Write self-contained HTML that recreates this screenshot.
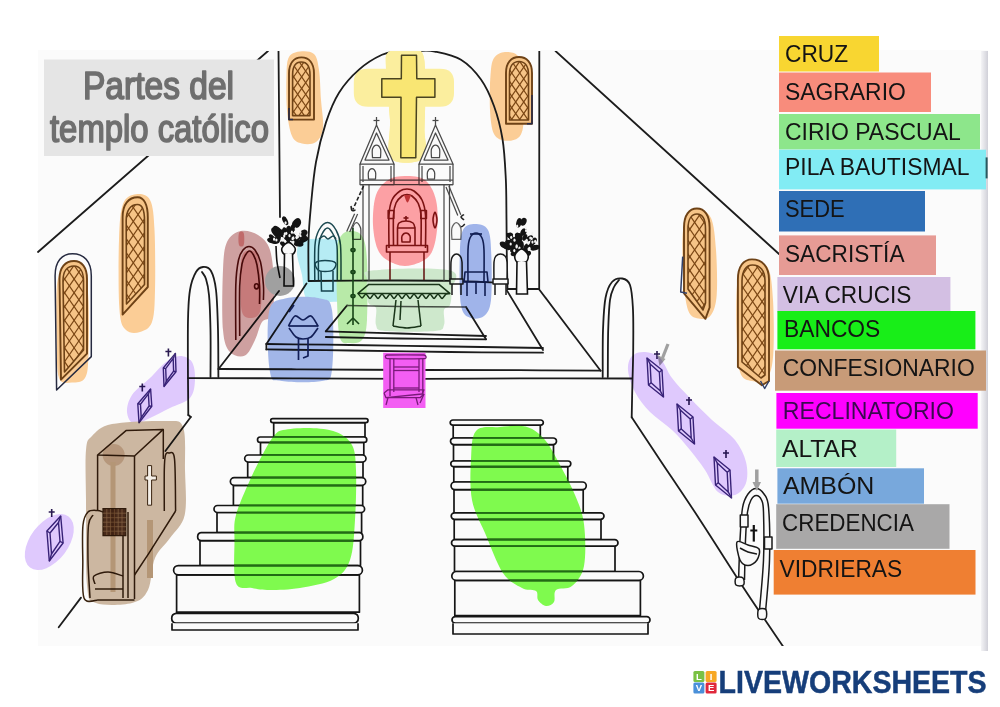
<!DOCTYPE html>
<html><head><meta charset="utf-8"><title>Partes del templo católico</title>
<style>
html,body{margin:0;padding:0;background:#fff;}
body{width:1000px;height:707px;position:relative;overflow:hidden;font-family:"Liberation Sans",sans-serif;}
svg{position:absolute;left:0;top:0;}
</style></head><body>
<svg width="1000" height="707" viewBox="0 0 1000 707">
<defs>
<filter id="soft" x="-10%" y="-10%" width="120%" height="120%"><feGaussianBlur stdDeviation="1.2"/></filter>
<filter id="soft2" x="-10%" y="-10%" width="120%" height="120%"><feGaussianBlur stdDeviation="0.6"/></filter>
</defs>
<!-- picture background -->
<rect x="38" y="50" width="950" height="596" fill="#fbfbfb"/>
<!-- right shadow bar -->
<defs><linearGradient id="sh" x1="0" x2="1"><stop offset="0" stop-color="#f4f4f6"/><stop offset="1" stop-color="#d0d0d8"/></linearGradient></defs>
<rect x="981" y="51" width="7" height="600" fill="url(#sh)"/>

<!-- DRAWING -->
<defs><clipPath id="cw1"><path d="M292.6,75 C292.6,66.5 296,62 301.2,62 C306.5,62 310,66.5 310,75 L310,115.6 L292.6,115.6Z"/></clipPath><clipPath id="cw2"><path d="M509.5,74.5 C509.5,66 513.3,61.5 519,61.5 C524.7,61.5 528.5,66 528.5,74.5 L528.5,120 L509.5,120Z"/></clipPath><clipPath id="cl1"><path d="M126.2,220.5 C126.2,210.1 130.7,204.5 137.5,204.5 C141.7,204.5 144.5,210.1 144.5,220.5 L144.5,284.5 L126.5,304Z"/></clipPath><clipPath id="cl2"><path d="M63,281 C63,271.2 67.4,266 74,266 C79.7,266 83.5,271.2 83.5,281 L83.5,350 L64.5,372Z"/></clipPath><clipPath id="cr1"><path d="M688,229 C688,219.2 691.6,214 697,214 C702.1,214 705.5,219.2 705.5,229 L705.5,303 L703,310 L688,289Z"/></clipPath><clipPath id="cr2"><path d="M742,281 C742,270.6 746.2,265 752.5,265 C760,265 765,270.6 765,281 L765,375 L761,378 L742,362Z"/></clipPath><clipPath id="cg"><path d="M283,430 C289,428.7 301.2,427.7 310,428 C318.8,428.3 329,429.2 336,432 C343,434.8 348.7,438.7 352,445 C355.3,451.3 355.5,457.5 356,470 C356.5,482.5 356,505 355,520 C354,535 353.5,550.2 350,560 C346.5,569.8 342.3,574.3 334,579 C325.7,583.7 310.7,586.2 300,588 C289.3,589.8 278,590 270,590 C262,590 257.7,589.2 252,588 C246.3,586.8 238.9,591 236,583 C233.1,575 234.5,551.3 234.5,540 C234.5,528.7 233.4,525 236,515 C238.6,505 245.2,490.8 250,480 C254.8,469.2 261,457.3 265,450 C269,442.7 271,439.3 274,436 C277,432.7 277,431.3 283,430Z"/><path d="M476,431 C480.8,425.5 491.5,427.7 500,427 C508.5,426.3 519.5,424.8 527,427 C534.5,429.2 539.5,433.7 545,440 C550.5,446.3 555,455.8 560,465 C565,474.2 571,485.2 575,495 C579,504.8 582.5,512.2 584,524 C585.5,535.8 586,555.7 584,566 C582,576.3 576.7,582 572,586 C567.3,590 559,587.3 556,590 C553,592.7 555.7,599.3 554,602 C552.3,604.7 548.7,606.3 546,606 C543.3,605.7 539.7,602.5 538,600 C536.3,597.5 538.7,593 536,591 C533.3,589 527.5,591 522,588 C516.5,585 509.2,582.2 503,573 C496.8,563.8 490.2,545.2 485,533 C479.8,520.8 474.3,512.2 472,500 C469.7,487.8 470.3,471.5 471,460 C471.7,448.5 471.2,436.5 476,431Z"/></clipPath><clipPath id="pic"><rect x="0" y="51" width="1000" height="595"/></clipPath></defs>
<g clip-path="url(#pic)"><g id="blobs-under">
<path d="M300,51.5 C304.2,51 310.8,50.9 314,54 C317.2,57.1 317.8,62.3 319,70 C320.2,77.7 320.3,90.3 321,100 C321.7,109.7 323.8,121 323,128 C322.2,135 319.5,139.4 316,142 C312.5,144.6 306,144.5 302,143.5 C298,142.5 294.5,141.6 292,136 C289.5,130.4 287.9,120.2 287,110 C286.1,99.8 286.2,83.8 286.5,75 C286.8,66.2 286.8,60.9 289,57 C291.2,53.1 295.8,52 300,51.5Z" fill="#fbcd96"/>
<path d="M505,52 C509,51.7 515,52.2 518,56 C521,59.8 522,65.2 523,75 C524,84.8 524.5,104.8 524,115 C523.5,125.2 523,131.7 520,136 C517,140.3 510.3,141.1 506,140.8 C501.7,140.5 496.7,139.1 494,134 C491.3,128.9 490.6,119.8 490,110 C489.4,100.2 489.8,83.7 490.5,75 C491.2,66.3 491.6,61.8 494,58 C496.4,54.2 501,52.3 505,52Z" fill="#fbcd96"/>
<path d="M136,194.3 C140.5,193.6 146.9,194.1 150,200 C153.1,205.9 153.7,215 154.5,230 C155.3,245 155.4,274.7 155,290 C154.6,305.3 154.5,315 152,322 C149.5,329 144.3,330.7 140,332 C135.7,333.3 129.4,333.7 126,330 C122.6,326.3 120.7,325 119.5,310 C118.3,295 118.4,257.7 119,240 C119.6,222.3 120.2,211.6 123,204 C125.8,196.4 131.5,195 136,194.3Z" fill="#fbcd96"/>
<path d="M72,265.3 C75.8,265.3 81.2,266.2 84,272 C86.8,277.8 87.8,286.2 88.5,300 C89.2,313.8 89.1,342 88.5,355 C87.9,368 87.8,373.4 85,378 C82.2,382.6 76.3,382.6 72,382.6 C67.7,382.6 61.6,385.1 59,378 C56.4,370.9 57,354.7 56.6,340 C56.2,325.3 55.9,301.3 56.6,290 C57.3,278.7 58.4,276.1 61,272 C63.6,267.9 68.2,265.3 72,265.3Z" fill="#fbcd96"/>
<path d="M698,211.3 C702.5,210.1 708,211.6 711,218 C714,224.4 715,237.2 716,250 C717,262.8 717.5,284.2 716.7,295 C715.9,305.8 713.8,311 711,315 C708.2,319 703.8,319.6 700,318.8 C696.2,318 690.8,318.1 688,310 C685.2,301.9 683.7,284.2 683,270 C682.3,255.8 681.5,234.8 684,225 C686.5,215.2 693.5,212.5 698,211.3Z" fill="#fbcd96"/>
<path d="M753,262 C757.3,262 764.7,261.7 768,268 C771.3,274.3 772.1,285.5 773,300 C773.9,314.5 774.2,342 773.2,355 C772.2,368 770.5,373.7 767,378 C763.5,382.3 756.5,382 752,381 C747.5,380 742.6,380.5 740,372 C737.4,363.5 737,344.5 736.5,330 C736,315.5 736.1,295.3 737,285 C737.9,274.7 739.3,271.8 742,268 C744.7,264.2 748.7,262 753,262Z" fill="#fbcd96"/>
<path d="M368,68.7 L440,68.7 Q454,68.7 454,82 L454,93 Q454,106.8 440,106.8 L368,106.8 Q353.8,106.8 353.8,93 L353.8,82 Q353.8,68.7 368,68.7Z" fill="#fbee9e"/>
<path d="M390,51 C395.8,47.8 415.2,44.5 421,51 C426.8,57.5 424.4,76.8 425,90 C425.6,103.2 424.7,118.6 424.5,130 C424.3,141.4 429.6,153.8 424,158.6 C418.4,163.4 396.7,165 391,158.6 C385.3,152.2 390.8,134.8 390,120 C389.2,105.2 386,81.5 386,70 C386,58.5 384.2,54.2 390,51Z" fill="#fbee9e"/>
</g>
<g id="windows" fill="none" stroke-linejoin="round">
<path d="M289,73.4 C289,63 294,57.4 301.5,57.4 C309,57.4 314,63 314,73.4 L314,119.6 L289,119.6Z" fill="#f6c487" stroke="none"/>
<g clip-path="url(#cw1)" stroke="#7a4614" stroke-width="1.2">
<path d="M222.8,55.4 L268.5,121.6"/>
<path d="M268.5,55.4 L222.8,121.6"/>
<path d="M230.8,55.4 L276.5,121.6"/>
<path d="M276.5,55.4 L230.8,121.6"/>
<path d="M238.8,55.4 L284.5,121.6"/>
<path d="M284.5,55.4 L238.8,121.6"/>
<path d="M246.8,55.4 L292.5,121.6"/>
<path d="M292.5,55.4 L246.8,121.6"/>
<path d="M254.8,55.4 L300.5,121.6"/>
<path d="M300.5,55.4 L254.8,121.6"/>
<path d="M262.8,55.4 L308.5,121.6"/>
<path d="M308.5,55.4 L262.8,121.6"/>
<path d="M270.8,55.4 L316.5,121.6"/>
<path d="M316.5,55.4 L270.8,121.6"/>
<path d="M278.8,55.4 L324.5,121.6"/>
<path d="M324.5,55.4 L278.8,121.6"/>
<path d="M286.8,55.4 L332.5,121.6"/>
<path d="M332.5,55.4 L286.8,121.6"/>
<path d="M294.8,55.4 L340.5,121.6"/>
<path d="M340.5,55.4 L294.8,121.6"/>
<path d="M302.8,55.4 L348.5,121.6"/>
<path d="M348.5,55.4 L302.8,121.6"/>
<path d="M310.8,55.4 L356.5,121.6"/>
<path d="M356.5,55.4 L310.8,121.6"/>
<path d="M318.8,55.4 L364.5,121.6"/>
<path d="M364.5,55.4 L318.8,121.6"/>
<path d="M326.8,55.4 L372.5,121.6"/>
<path d="M372.5,55.4 L326.8,121.6"/>
<path d="M334.8,55.4 L380.5,121.6"/>
<path d="M380.5,55.4 L334.8,121.6"/>
<path d="M342.8,55.4 L388.5,121.6"/>
<path d="M388.5,55.4 L342.8,121.6"/>
<path d="M350.8,55.4 L396.5,121.6"/>
<path d="M396.5,55.4 L350.8,121.6"/>
<path d="M358.8,55.4 L404.5,121.6"/>
<path d="M404.5,55.4 L358.8,121.6"/>
<path d="M366.8,55.4 L412.5,121.6"/>
<path d="M412.5,55.4 L366.8,121.6"/>
<path d="M374.8,55.4 L420.5,121.6"/>
<path d="M420.5,55.4 L374.8,121.6"/>
</g>
<path d="M292.6,75 C292.6,66.5 296,62 301.2,62 C306.5,62 310,66.5 310,75 L310,115.6 L292.6,115.6Z" fill="none" stroke="#6e4216" stroke-width="1.6"/>
<path d="M289,73.4 C289,63 294,57.4 301.5,57.4 C309,57.4 314,63 314,73.4 L314,119.6 L289,119.6Z" fill="none" stroke="#6e4216" stroke-width="1.9"/>
<path d="M289,108 L289,119.6 L293,119.6" fill="none" stroke="#262a48" stroke-width="1.5"/>
<path d="M506,73 C506,62.6 511.2,57 519,57 C526.8,57 532,62.6 532,73 L532,123.7 L506,123.7Z" fill="#f6c487" stroke="none"/>
<g clip-path="url(#cw2)" stroke="#7a4614" stroke-width="1.2">
<path d="M435.3,55 L484.1,125.7"/>
<path d="M484.1,55 L435.3,125.7"/>
<path d="M443.3,55 L492.1,125.7"/>
<path d="M492.1,55 L443.3,125.7"/>
<path d="M451.3,55 L500.1,125.7"/>
<path d="M500.1,55 L451.3,125.7"/>
<path d="M459.3,55 L508.1,125.7"/>
<path d="M508.1,55 L459.3,125.7"/>
<path d="M467.3,55 L516.1,125.7"/>
<path d="M516.1,55 L467.3,125.7"/>
<path d="M475.3,55 L524.1,125.7"/>
<path d="M524.1,55 L475.3,125.7"/>
<path d="M483.3,55 L532.1,125.7"/>
<path d="M532.1,55 L483.3,125.7"/>
<path d="M491.3,55 L540.1,125.7"/>
<path d="M540.1,55 L491.3,125.7"/>
<path d="M499.3,55 L548.1,125.7"/>
<path d="M548.1,55 L499.3,125.7"/>
<path d="M507.3,55 L556.1,125.7"/>
<path d="M556.1,55 L507.3,125.7"/>
<path d="M515.3,55 L564.1,125.7"/>
<path d="M564.1,55 L515.3,125.7"/>
<path d="M523.3,55 L572.1,125.7"/>
<path d="M572.1,55 L523.3,125.7"/>
<path d="M531.3,55 L580.1,125.7"/>
<path d="M580.1,55 L531.3,125.7"/>
<path d="M539.3,55 L588.1,125.7"/>
<path d="M588.1,55 L539.3,125.7"/>
<path d="M547.3,55 L596.1,125.7"/>
<path d="M596.1,55 L547.3,125.7"/>
<path d="M555.3,55 L604.1,125.7"/>
<path d="M604.1,55 L555.3,125.7"/>
<path d="M563.3,55 L612.1,125.7"/>
<path d="M612.1,55 L563.3,125.7"/>
<path d="M571.3,55 L620.1,125.7"/>
<path d="M620.1,55 L571.3,125.7"/>
<path d="M579.3,55 L628.1,125.7"/>
<path d="M628.1,55 L579.3,125.7"/>
<path d="M587.3,55 L636.1,125.7"/>
<path d="M636.1,55 L587.3,125.7"/>
<path d="M595.3,55 L644.1,125.7"/>
<path d="M644.1,55 L595.3,125.7"/>
</g>
<path d="M509.5,74.5 C509.5,66 513.3,61.5 519,61.5 C524.7,61.5 528.5,66 528.5,74.5 L528.5,120 L509.5,120Z" fill="none" stroke="#6e4216" stroke-width="1.6"/>
<path d="M506,73 C506,62.6 511.2,57 519,57 C526.8,57 532,62.6 532,73 L532,123.7 L506,123.7Z" fill="none" stroke="#6e4216" stroke-width="1.9"/>
<path d="M532,95 L532,123.7 L527,123.7" fill="none" stroke="#262a48" stroke-width="1.5"/>
<path d="M122.6,217.2 C122.6,204.2 128.6,197.2 137.7,197.2 C143.8,197.2 147.8,204.2 147.8,217.2 L147.8,287 L122.6,314.6Z" fill="#f6c487" stroke="none"/>
<g clip-path="url(#cl1)" stroke="#7a4614" stroke-width="1.2">
<path d="M1.2,195.2 L84.9,316.6"/>
<path d="M84.9,195.2 L1.2,316.6"/>
<path d="M10.7,195.2 L94.4,316.6"/>
<path d="M94.4,195.2 L10.7,316.6"/>
<path d="M20.2,195.2 L103.9,316.6"/>
<path d="M103.9,195.2 L20.2,316.6"/>
<path d="M29.7,195.2 L113.4,316.6"/>
<path d="M113.4,195.2 L29.7,316.6"/>
<path d="M39.2,195.2 L122.9,316.6"/>
<path d="M122.9,195.2 L39.2,316.6"/>
<path d="M48.7,195.2 L132.4,316.6"/>
<path d="M132.4,195.2 L48.7,316.6"/>
<path d="M58.2,195.2 L141.9,316.6"/>
<path d="M141.9,195.2 L58.2,316.6"/>
<path d="M67.7,195.2 L151.4,316.6"/>
<path d="M151.4,195.2 L67.7,316.6"/>
<path d="M77.2,195.2 L160.9,316.6"/>
<path d="M160.9,195.2 L77.2,316.6"/>
<path d="M86.7,195.2 L170.4,316.6"/>
<path d="M170.4,195.2 L86.7,316.6"/>
<path d="M96.2,195.2 L179.9,316.6"/>
<path d="M179.9,195.2 L96.2,316.6"/>
<path d="M105.7,195.2 L189.4,316.6"/>
<path d="M189.4,195.2 L105.7,316.6"/>
<path d="M115.2,195.2 L198.9,316.6"/>
<path d="M198.9,195.2 L115.2,316.6"/>
<path d="M124.7,195.2 L208.4,316.6"/>
<path d="M208.4,195.2 L124.7,316.6"/>
<path d="M134.2,195.2 L217.9,316.6"/>
<path d="M217.9,195.2 L134.2,316.6"/>
<path d="M143.7,195.2 L227.4,316.6"/>
<path d="M227.4,195.2 L143.7,316.6"/>
<path d="M153.2,195.2 L236.9,316.6"/>
<path d="M236.9,195.2 L153.2,316.6"/>
<path d="M162.7,195.2 L246.4,316.6"/>
<path d="M246.4,195.2 L162.7,316.6"/>
<path d="M172.2,195.2 L255.9,316.6"/>
<path d="M255.9,195.2 L172.2,316.6"/>
<path d="M181.7,195.2 L265.4,316.6"/>
<path d="M265.4,195.2 L181.7,316.6"/>
<path d="M191.2,195.2 L274.9,316.6"/>
<path d="M274.9,195.2 L191.2,316.6"/>
<path d="M200.7,195.2 L284.4,316.6"/>
<path d="M284.4,195.2 L200.7,316.6"/>
<path d="M210.2,195.2 L293.9,316.6"/>
<path d="M293.9,195.2 L210.2,316.6"/>
<path d="M219.7,195.2 L303.4,316.6"/>
<path d="M303.4,195.2 L219.7,316.6"/>
<path d="M229.2,195.2 L312.9,316.6"/>
<path d="M312.9,195.2 L229.2,316.6"/>
<path d="M238.7,195.2 L322.4,316.6"/>
<path d="M322.4,195.2 L238.7,316.6"/>
<path d="M248.2,195.2 L331.9,316.6"/>
<path d="M331.9,195.2 L248.2,316.6"/>
<path d="M257.7,195.2 L341.4,316.6"/>
<path d="M341.4,195.2 L257.7,316.6"/>
<path d="M267.2,195.2 L350.9,316.6"/>
<path d="M350.9,195.2 L267.2,316.6"/>
</g>
<path d="M126.2,220.5 C126.2,210.1 130.7,204.5 137.5,204.5 C141.7,204.5 144.5,210.1 144.5,220.5 L144.5,284.5 L126.5,304Z" fill="none" stroke="#6e4216" stroke-width="1.6"/>
<path d="M122.6,217.2 C122.6,204.2 128.6,197.2 137.7,197.2 C143.8,197.2 147.8,204.2 147.8,217.2 L147.8,287 L122.6,314.6Z" fill="none" stroke="#6e4216" stroke-width="1.9"/>
<path d="M59.5,279 C59.5,267.3 65.3,261 74,261 C81.8,261 87,267.3 87,279 L87,353.7 L61,379.7Z" fill="#f6c487" stroke="none"/>
<g clip-path="url(#cl2)" stroke="#7a4614" stroke-width="1.2">
<path d="M-63.2,259 L21.4,381.7"/>
<path d="M21.4,259 L-63.2,381.7"/>
<path d="M-53.7,259 L30.9,381.7"/>
<path d="M30.9,259 L-53.7,381.7"/>
<path d="M-44.2,259 L40.4,381.7"/>
<path d="M40.4,259 L-44.2,381.7"/>
<path d="M-34.7,259 L49.9,381.7"/>
<path d="M49.9,259 L-34.7,381.7"/>
<path d="M-25.2,259 L59.4,381.7"/>
<path d="M59.4,259 L-25.2,381.7"/>
<path d="M-15.7,259 L68.9,381.7"/>
<path d="M68.9,259 L-15.7,381.7"/>
<path d="M-6.2,259 L78.4,381.7"/>
<path d="M78.4,259 L-6.2,381.7"/>
<path d="M3.3,259 L87.9,381.7"/>
<path d="M87.9,259 L3.3,381.7"/>
<path d="M12.8,259 L97.4,381.7"/>
<path d="M97.4,259 L12.8,381.7"/>
<path d="M22.3,259 L106.9,381.7"/>
<path d="M106.9,259 L22.3,381.7"/>
<path d="M31.8,259 L116.4,381.7"/>
<path d="M116.4,259 L31.8,381.7"/>
<path d="M41.3,259 L125.9,381.7"/>
<path d="M125.9,259 L41.3,381.7"/>
<path d="M50.8,259 L135.4,381.7"/>
<path d="M135.4,259 L50.8,381.7"/>
<path d="M60.3,259 L144.9,381.7"/>
<path d="M144.9,259 L60.3,381.7"/>
<path d="M69.8,259 L154.4,381.7"/>
<path d="M154.4,259 L69.8,381.7"/>
<path d="M79.3,259 L163.9,381.7"/>
<path d="M163.9,259 L79.3,381.7"/>
<path d="M88.8,259 L173.4,381.7"/>
<path d="M173.4,259 L88.8,381.7"/>
<path d="M98.3,259 L182.9,381.7"/>
<path d="M182.9,259 L98.3,381.7"/>
<path d="M107.8,259 L192.4,381.7"/>
<path d="M192.4,259 L107.8,381.7"/>
<path d="M117.3,259 L201.9,381.7"/>
<path d="M201.9,259 L117.3,381.7"/>
<path d="M126.8,259 L211.4,381.7"/>
<path d="M211.4,259 L126.8,381.7"/>
<path d="M136.3,259 L220.9,381.7"/>
<path d="M220.9,259 L136.3,381.7"/>
<path d="M145.8,259 L230.4,381.7"/>
<path d="M230.4,259 L145.8,381.7"/>
<path d="M155.3,259 L239.9,381.7"/>
<path d="M239.9,259 L155.3,381.7"/>
<path d="M164.8,259 L249.4,381.7"/>
<path d="M249.4,259 L164.8,381.7"/>
<path d="M174.3,259 L258.9,381.7"/>
<path d="M258.9,259 L174.3,381.7"/>
<path d="M183.8,259 L268.4,381.7"/>
<path d="M268.4,259 L183.8,381.7"/>
<path d="M193.3,259 L277.9,381.7"/>
<path d="M277.9,259 L193.3,381.7"/>
<path d="M202.8,259 L287.4,381.7"/>
<path d="M287.4,259 L202.8,381.7"/>
</g>
<path d="M63,281 C63,271.2 67.4,266 74,266 C79.7,266 83.5,271.2 83.5,281 L83.5,350 L64.5,372Z" fill="none" stroke="#6e4216" stroke-width="1.6"/>
<path d="M59.5,279 C59.5,267.3 65.3,261 74,261 C81.8,261 87,267.3 87,279 L87,353.7 L61,379.7Z" fill="none" stroke="#6e4216" stroke-width="1.9"/>
<path d="M55.1,275.7 C55.1,261.4 62.1,253.7 72.5,253.7 C83.8,253.7 91.3,261.4 91.3,275.7 L91.3,356.6 L56.6,390Z" fill="none" stroke="#262a40" stroke-width="1.5"/>
<path d="M684,227.5 C684,215.2 689.2,208.5 696.9,208.5 C704.5,208.5 709.6,215.2 709.6,227.5 L709.6,307.5 L705.4,318.8 L684,293.3Z" fill="#f6c487" stroke="none"/>
<g clip-path="url(#cr1)" stroke="#7a4614" stroke-width="1.2">
<path d="M569.7,206.5 L648.5,320.8"/>
<path d="M648.5,206.5 L569.7,320.8"/>
<path d="M579.2,206.5 L658,320.8"/>
<path d="M658,206.5 L579.2,320.8"/>
<path d="M588.7,206.5 L667.5,320.8"/>
<path d="M667.5,206.5 L588.7,320.8"/>
<path d="M598.2,206.5 L677,320.8"/>
<path d="M677,206.5 L598.2,320.8"/>
<path d="M607.7,206.5 L686.5,320.8"/>
<path d="M686.5,206.5 L607.7,320.8"/>
<path d="M617.2,206.5 L696,320.8"/>
<path d="M696,206.5 L617.2,320.8"/>
<path d="M626.7,206.5 L705.5,320.8"/>
<path d="M705.5,206.5 L626.7,320.8"/>
<path d="M636.2,206.5 L715,320.8"/>
<path d="M715,206.5 L636.2,320.8"/>
<path d="M645.7,206.5 L724.5,320.8"/>
<path d="M724.5,206.5 L645.7,320.8"/>
<path d="M655.2,206.5 L734,320.8"/>
<path d="M734,206.5 L655.2,320.8"/>
<path d="M664.7,206.5 L743.5,320.8"/>
<path d="M743.5,206.5 L664.7,320.8"/>
<path d="M674.2,206.5 L753,320.8"/>
<path d="M753,206.5 L674.2,320.8"/>
<path d="M683.7,206.5 L762.5,320.8"/>
<path d="M762.5,206.5 L683.7,320.8"/>
<path d="M693.2,206.5 L772,320.8"/>
<path d="M772,206.5 L693.2,320.8"/>
<path d="M702.7,206.5 L781.5,320.8"/>
<path d="M781.5,206.5 L702.7,320.8"/>
<path d="M712.2,206.5 L791,320.8"/>
<path d="M791,206.5 L712.2,320.8"/>
<path d="M721.7,206.5 L800.5,320.8"/>
<path d="M800.5,206.5 L721.7,320.8"/>
<path d="M731.2,206.5 L810,320.8"/>
<path d="M810,206.5 L731.2,320.8"/>
<path d="M740.7,206.5 L819.5,320.8"/>
<path d="M819.5,206.5 L740.7,320.8"/>
<path d="M750.2,206.5 L829,320.8"/>
<path d="M829,206.5 L750.2,320.8"/>
<path d="M759.7,206.5 L838.5,320.8"/>
<path d="M838.5,206.5 L759.7,320.8"/>
<path d="M769.2,206.5 L848,320.8"/>
<path d="M848,206.5 L769.2,320.8"/>
<path d="M778.7,206.5 L857.5,320.8"/>
<path d="M857.5,206.5 L778.7,320.8"/>
<path d="M788.2,206.5 L867,320.8"/>
<path d="M867,206.5 L788.2,320.8"/>
<path d="M797.7,206.5 L876.5,320.8"/>
<path d="M876.5,206.5 L797.7,320.8"/>
<path d="M807.2,206.5 L886,320.8"/>
<path d="M886,206.5 L807.2,320.8"/>
<path d="M816.7,206.5 L895.5,320.8"/>
<path d="M895.5,206.5 L816.7,320.8"/>
</g>
<path d="M688,229 C688,219.2 691.6,214 697,214 C702.1,214 705.5,219.2 705.5,229 L705.5,303 L703,310 L688,289Z" fill="none" stroke="#6e4216" stroke-width="1.6"/>
<path d="M684,227.5 C684,215.2 689.2,208.5 696.9,208.5 C704.5,208.5 709.6,215.2 709.6,227.5 L709.6,307.5 L705.4,318.8 L684,293.3Z" fill="none" stroke="#6e4216" stroke-width="1.9"/>
<path d="M682.7,256.6 L680.7,292 L687,293.3" fill="none" stroke="#30406a" stroke-width="1.5"/>
<path d="M737.9,279.4 C737.9,266.4 743.5,259.4 752,259.4 C762.2,259.4 769,266.4 769,279.4 L769,381 L761.9,385.2 L737.9,367Z" fill="#f6c487" stroke="none"/>
<g clip-path="url(#cr2)" stroke="#7a4614" stroke-width="1.2">
<path d="M608.1,257.4 L697.6,387.2"/>
<path d="M697.6,257.4 L608.1,387.2"/>
<path d="M617.6,257.4 L707.1,387.2"/>
<path d="M707.1,257.4 L617.6,387.2"/>
<path d="M627.1,257.4 L716.6,387.2"/>
<path d="M716.6,257.4 L627.1,387.2"/>
<path d="M636.6,257.4 L726.1,387.2"/>
<path d="M726.1,257.4 L636.6,387.2"/>
<path d="M646.1,257.4 L735.6,387.2"/>
<path d="M735.6,257.4 L646.1,387.2"/>
<path d="M655.6,257.4 L745.1,387.2"/>
<path d="M745.1,257.4 L655.6,387.2"/>
<path d="M665.1,257.4 L754.6,387.2"/>
<path d="M754.6,257.4 L665.1,387.2"/>
<path d="M674.6,257.4 L764.1,387.2"/>
<path d="M764.1,257.4 L674.6,387.2"/>
<path d="M684.1,257.4 L773.6,387.2"/>
<path d="M773.6,257.4 L684.1,387.2"/>
<path d="M693.6,257.4 L783.1,387.2"/>
<path d="M783.1,257.4 L693.6,387.2"/>
<path d="M703.1,257.4 L792.6,387.2"/>
<path d="M792.6,257.4 L703.1,387.2"/>
<path d="M712.6,257.4 L802.1,387.2"/>
<path d="M802.1,257.4 L712.6,387.2"/>
<path d="M722.1,257.4 L811.6,387.2"/>
<path d="M811.6,257.4 L722.1,387.2"/>
<path d="M731.6,257.4 L821.1,387.2"/>
<path d="M821.1,257.4 L731.6,387.2"/>
<path d="M741.1,257.4 L830.6,387.2"/>
<path d="M830.6,257.4 L741.1,387.2"/>
<path d="M750.6,257.4 L840.1,387.2"/>
<path d="M840.1,257.4 L750.6,387.2"/>
<path d="M760.1,257.4 L849.6,387.2"/>
<path d="M849.6,257.4 L760.1,387.2"/>
<path d="M769.6,257.4 L859.1,387.2"/>
<path d="M859.1,257.4 L769.6,387.2"/>
<path d="M779.1,257.4 L868.6,387.2"/>
<path d="M868.6,257.4 L779.1,387.2"/>
<path d="M788.6,257.4 L878.1,387.2"/>
<path d="M878.1,257.4 L788.6,387.2"/>
<path d="M798.1,257.4 L887.6,387.2"/>
<path d="M887.6,257.4 L798.1,387.2"/>
<path d="M807.6,257.4 L897.1,387.2"/>
<path d="M897.1,257.4 L807.6,387.2"/>
<path d="M817.1,257.4 L906.6,387.2"/>
<path d="M906.6,257.4 L817.1,387.2"/>
<path d="M826.6,257.4 L916.1,387.2"/>
<path d="M916.1,257.4 L826.6,387.2"/>
<path d="M836.1,257.4 L925.6,387.2"/>
<path d="M925.6,257.4 L836.1,387.2"/>
<path d="M845.6,257.4 L935.1,387.2"/>
<path d="M935.1,257.4 L845.6,387.2"/>
<path d="M855.1,257.4 L944.6,387.2"/>
<path d="M944.6,257.4 L855.1,387.2"/>
<path d="M864.6,257.4 L954.1,387.2"/>
<path d="M954.1,257.4 L864.6,387.2"/>
<path d="M874.1,257.4 L963.6,387.2"/>
<path d="M963.6,257.4 L874.1,387.2"/>
<path d="M883.6,257.4 L973.1,387.2"/>
<path d="M973.1,257.4 L883.6,387.2"/>
<path d="M893.1,257.4 L982.6,387.2"/>
<path d="M982.6,257.4 L893.1,387.2"/>
</g>
<path d="M742,281 C742,270.6 746.2,265 752.5,265 C760,265 765,270.6 765,281 L765,375 L761,378 L742,362Z" fill="none" stroke="#6e4216" stroke-width="1.6"/>
<path d="M737.9,279.4 C737.9,266.4 743.5,259.4 752,259.4 C762.2,259.4 769,266.4 769,279.4 L769,381 L761.9,385.2 L737.9,367Z" fill="none" stroke="#6e4216" stroke-width="1.9"/>
<path d="M760.5,381 L764.7,388.5 L769,381" fill="none" stroke="#30406a" stroke-width="1.5"/>
</g>
<g id="ink" fill="none" stroke="#1c1c1c" stroke-width="1.8" stroke-linecap="round" stroke-linejoin="round">
<path d="M268,51 L38,252" />
<path d="M555.5,51 L779,254" />
<path d="M278.5,50.5 L280,217" />
<path d="M539.3,50.5 L539.2,289" />
<path d="M308.6,281 C308.6,274.2 308.1,252.7 308.5,240 C308.9,227.3 309.8,218 311,205 C312.2,192 313.5,175.8 316,162 C318.5,148.2 322.2,134 326,122.4 C329.8,110.9 333.5,101.5 339,92.7 C344.5,83.9 351.8,75.9 359,69.6 C366.2,63.3 375.4,57.8 382,54.8 C388.6,51.8 392.7,52.1 398.5,51.5 C404.3,50.9 410.9,51 417,51 C423.1,51 427.5,50 434.8,51.5 C442.1,53 453.3,55 461,59.7 C468.7,64.4 475.5,71.8 481,79.5 C486.5,87.2 490.4,96.1 494,106 C497.6,115.9 500.5,126.9 502.5,139 C504.5,151.1 505.1,165 505.8,178.5 C506.5,192 506.3,207.2 506.5,220 C506.7,232.8 506.6,243.5 506.8,255 C507,266.5 507.4,283.3 507.5,289" />
<path d="M507.5,289 L539.2,289" />
<path d="M279,291 L218.5,369" />
<path d="M539.4,289.7 L600.6,370.7" />
<path d="M507,290.6 L543,350" />
<path d="M266.4,344 C280.3,344.2 319.4,344.6 350,345 C380.6,345.4 417.8,346 450,346.5 C482.2,347 527.5,347.8 543,348" />
<path d="M266.4,349.4 C280.3,349.6 319.4,350.1 350,350.5 C380.6,350.9 417.8,351.6 450,352 C482.2,352.4 527.5,352.6 543,352.7" />
<path d="M266.4,344 L306.5,283.5" />
<path d="M266.4,344 L266.4,349.4" />
<path d="M325.8,331.4 C338.2,331.8 373.3,332.7 400,333.5 C426.7,334.3 471.7,335.6 486,336" />
<path d="M325.8,337 C338.2,337.2 373.3,338.1 400,338.5 C426.7,338.9 471.7,339.2 486,339.3" />
<path d="M325.8,331.4 L347,305.5" />
<path d="M486,339.3 L466,307" />
<path d="M347,305.5 C355.8,305.7 380.2,306.2 400,306.5 C419.8,306.8 455,306.9 466,307" stroke="#555" stroke-width="1.4"/>
<path d="M309,281 C320.8,280.9 356.5,280.5 380,280.5 C403.5,280.5 428.8,280.4 450,280.8 C471.2,281.2 497.9,282.6 507.5,283" />
<path d="M218.5,369 C232.1,369.1 266.4,369.1 300,369.3 C333.6,369.5 383.3,369.9 420,370 C456.7,370.1 489.9,370.1 520,370.2 C550.1,370.3 587.2,370.6 600.6,370.7" />
<path d="M188,378.2 C206.7,378.2 261.3,378.2 300,378.3 C338.7,378.4 383.3,378.8 420,378.8 C456.7,378.8 484.7,378.4 520,378.4 C555.3,378.3 613.3,378.5 632,378.5" />
<path d="M188.3,415 C188.2,409.2 188.1,395.8 188,380 C187.9,364.2 187.7,335 188,320 C188.3,305 188.7,298 190,290 C191.3,282 193.8,275.8 196,272 C198.2,268.2 200.5,267.2 203,267 C205.5,266.8 208.8,267.2 211,271 C213.2,274.8 214.8,280.2 216,290 C217.2,299.8 217.6,315.5 218,330 C218.4,344.5 218.3,369.2 218.4,377" />
<path d="M210.5,377 C210.5,369.2 210.8,343.7 210.5,330 C210.2,316.3 209.8,303.5 209,295 C208.2,286.5 207.2,282.8 206,279 C204.8,275.2 202.7,273.2 202,272" />
<path d="M190.8,417 L165.4,451" />
<path d="M81,597.6 L58.7,627.3" />
<path d="M188.3,415 L190.8,417" />
<path d="M602.7,377 C602.8,369.2 602.5,343.2 603,330 C603.5,316.8 604,306 605.5,298 C607,290 609.2,285.2 612,282 C614.8,278.8 619.2,278 622.2,278.5 C625.2,279 628.2,279.8 630,285 C631.8,290.2 632.5,299.2 633,310 C633.5,320.8 633.3,338.3 633.2,350 C633.1,361.7 632.8,368.8 632.5,380 C632.2,391.2 631.8,411.1 631.7,417.3" />
<path d="M607.8,377 C607.9,369.2 607.8,342.8 608.2,330 C608.6,317.2 609,307.2 610,300 C611,292.8 612.5,290.3 614,287 C615.5,283.7 618.2,281.2 619,280" />
<path d="M631.7,417.3 C636.4,424.4 648.6,442.9 660,460 C671.4,477.1 685.8,498.3 700,520 C714.2,541.7 731.1,568.8 745,590 C758.9,611.2 777.1,637.5 783.5,647" />
</g>
<path d="M390,51 C395.8,47.8 415.2,44.5 421,51 C426.8,57.5 424.4,76.8 425,90 C425.6,103.2 424.7,118.6 424.5,130 C424.3,141.4 429.6,153.8 424,158.6 C418.4,163.4 396.7,165 391,158.6 C385.3,152.2 390.8,134.8 390,120 C389.2,105.2 386,81.5 386,70 C386,58.5 384.2,54.2 390,51Z" fill="#fbee9e"/>
<path d="M401.5,55.3 L416.5,55.3 L416.8,78.7 L434.9,78.7 L434.9,97.3 L416.5,97.3 L415.8,157.7 L400.8,157.7 L401,97.3 L381.8,97.3 L381.8,78.7 L401.3,78.7Z" fill="#f9e673" stroke="#4a4420" stroke-width="1.5" stroke-linejoin="round"/>
<g fill="none" stroke="#4a4a4a" stroke-width="1.25" stroke-linejoin="round">
<path d="M376.5,117 L376.5,125" />
<path d="M373.5,120.5 L379.5,120.5" />
<path d="M376.5,125 L360,164 L394,164Z" fill="#fafafa"/>
<path d="M376.5,133 L365,160 L389,160Z" />
<path d="M372.5,157.7 C372.5,156.2 371.8,151.1 372.5,149 C373.2,146.9 375.2,145 376.5,145 C377.8,145 379.8,146.9 380.5,149 C381.2,151.1 380.5,156.2 380.5,157.7Z" />
<path d="M360,164 L360,184.5 L394,184.5 L394,164" />
<path d="M363,166 L363,182" />
<path d="M391,166 L391,182" />
<path d="M368.5,179 C368.5,177.8 367.9,173.8 368.5,172 C369.1,170.2 370.8,168.5 372,168.5 C373.2,168.5 374.9,170.2 375.5,172 C376.1,173.8 375.5,177.8 375.5,179Z" />
<path d="M435.5,117 L435.5,125" />
<path d="M432.5,120.5 L438.5,120.5" />
<path d="M435.5,125 L419,164 L453,164Z" fill="#fafafa"/>
<path d="M435.5,133 L424,160 L448,160Z" />
<path d="M431.5,157.7 C431.5,156.2 430.8,151.1 431.5,149 C432.2,146.9 434.2,145 435.5,145 C436.8,145 438.8,146.9 439.5,149 C440.2,151.1 439.5,156.2 439.5,157.7Z" />
<path d="M419,164 L419,184.5 L453,184.5 L453,164" />
<path d="M422,166 L422,182" />
<path d="M450,166 L450,182" />
<path d="M427.5,179 C427.5,177.8 426.9,173.8 427.5,172 C428.1,170.2 429.8,168.5 431,168.5 C432.2,168.5 433.9,170.2 434.5,172 C435.1,173.8 434.5,177.8 434.5,179Z" />
<path d="M360,180 L453,180" />
<path d="M360,184.5 L453,184.5" />
<path d="M363,184.5 L363,281" />
<path d="M369,184.5 L369,281" />
<path d="M444,184.5 L444,281" />
<path d="M449.5,184.5 L449.5,281" />
<path d="M363.6,186 L352.7,209.7" stroke="#222" stroke-width="1.6" stroke-dasharray="4 2"/>
<path d="M351,206 C351.2,206.8 351.2,209.8 352,210.5 C352.8,211.2 354.9,210.1 355.5,210" stroke="#222" stroke-width="1.6"/>
<path d="M354.6,213.7 L346.7,231.5" />
<path d="M357.6,214 L349.7,232" />
<path d="M352.7,239.4 C352.7,237.5 352,230.8 352.7,228 C353.4,225.2 355.3,222.6 356.6,222.6 C357.9,222.6 359.9,225.2 360.6,228 C361.3,230.8 360.6,237.5 360.6,239.4Z" />
<path d="M448.9,186 L460.8,214.7" />
<path d="M446,187 L457.8,215.5" />
<path d="M464,214.5 C463.5,214.9 461,216.1 461,217 C461,217.9 463.5,219.5 464,220" stroke="#222" stroke-width="1.6"/>
<path d="M457.8,224 C458.4,224.5 460.1,226.8 461.3,226.8 C462.5,226.8 464.2,224.5 464.8,224" stroke="#222" stroke-width="1.6"/>
<path d="M451.9,239.4 C451.9,237.5 451.2,230.8 451.9,228 C452.6,225.2 454.8,222.6 456.3,222.6 C457.8,222.6 460.1,225.2 460.8,228 C461.6,230.8 460.8,237.5 460.8,239.4Z" fill="#fafafa" stroke="#666"/>
</g>
<g fill="none" stroke="#7e1c1c" stroke-width="1.6" stroke-linejoin="round">
<path d="M389,248 C389,242.5 388.5,223 389,215 C389.5,207 390.2,204 392,200 C393.8,196 397.5,192.8 400,191 C402.5,189.2 404.7,189 407,189 C409.3,189 411.5,189.2 414,191 C416.5,192.8 420.1,196 422,200 C423.9,204 424.9,207 425.5,215 C426.1,223 425.5,242.5 425.5,248" />
<path d="M393.5,246 C393.5,240.8 393.1,222.2 393.5,215 C393.9,207.8 394.6,206.2 396,203 C397.4,199.8 400.2,197.4 402,196 C403.8,194.6 405.3,194.5 407,194.5 C408.7,194.5 410.2,194.6 412,196 C413.8,197.4 416.5,199.8 418,203 C419.5,206.2 420.5,207.8 421,215 C421.5,222.2 421,240.8 421,246" />
<path d="M386.5,245.5 L427.5,245.5 L427.5,252 L386.5,252Z" />
<path d="M390,252 L390,280" />
<path d="M424,252 L424,280" />
<path d="M397.5,246 L397.5,228 L415,228 L415,246" />
<path d="M397.5,228 C397.8,227.2 397.6,224.2 399,223 C400.4,221.8 403.7,221 406,221 C408.3,221 411.5,221.8 413,223 C414.5,224.2 414.7,227.2 415,228" />
<path d="M406,216 L406,221" />
<path d="M403.5,218 L408.5,218" />
<path d="M402,242 C402,241 401.3,237.5 402,236 C402.7,234.5 404.7,233 406,233 C407.3,233 409.3,234.5 410,236 C410.7,237.5 410,241 410,242Z" />
<path d="M388.2,210.5 L393.8,210.5 L393.8,218.5 L388.2,218.5Z" />
<path d="M420.8,210.5 L426.4,210.5 L426.4,218.5 L420.8,218.5Z" />
<path d="M404,195 C404.6,196.2 406.3,202.5 407.5,202.5 C408.7,202.5 410.4,196.2 411,195" fill="#c05050" stroke="none"/>
<path d="M435,212 C435.7,212 437,217.3 437,220 C437,222.7 435.7,228 435,228 C434.3,228 433,222.7 433,220 C433,217.3 434.3,212 435,212Z" />
</g>
<g>
<ellipse cx="280" cy="232.4" rx="2.7" ry="4.8" fill="#141414" transform="rotate(-49 280 232.4)"/>
<ellipse cx="283.6" cy="244.4" rx="2.3" ry="4" fill="#141414" transform="rotate(-53.5 283.6 244.4)"/>
<ellipse cx="298.7" cy="244" rx="2.6" ry="4.8" fill="#141414" transform="rotate(97.1 298.7 244)"/>
<ellipse cx="277.1" cy="235" rx="2.6" ry="5" fill="#141414" transform="rotate(-38.2 277.1 235)"/>
<ellipse cx="290.5" cy="239.1" rx="2.7" ry="4.1" fill="#141414" transform="rotate(40.7 290.5 239.1)"/>
<ellipse cx="272.3" cy="240.5" rx="2.9" ry="5.3" fill="#141414" transform="rotate(-77.3 272.3 240.5)"/>
<ellipse cx="297.6" cy="223.8" rx="3" ry="4.4" fill="#141414" transform="rotate(29.4 297.6 223.8)"/>
<ellipse cx="303.4" cy="237.9" rx="2.2" ry="3.9" fill="#141414" transform="rotate(50.4 303.4 237.9)"/>
<ellipse cx="298.1" cy="242.6" rx="2.4" ry="4.5" fill="#141414" transform="rotate(81.7 298.1 242.6)"/>
<ellipse cx="285.1" cy="232.4" rx="2.7" ry="5.3" fill="#141414" transform="rotate(-14.2 285.1 232.4)"/>
<ellipse cx="296.4" cy="222.3" rx="3.2" ry="4.8" fill="#141414" transform="rotate(47.3 296.4 222.3)"/>
<ellipse cx="274.9" cy="231.4" rx="3.1" ry="4.6" fill="#141414" transform="rotate(-31.3 274.9 231.4)"/>
<ellipse cx="292.2" cy="236.9" rx="2.7" ry="4.1" fill="#141414" transform="rotate(51.2 292.2 236.9)"/>
<ellipse cx="272.9" cy="238.2" rx="2.1" ry="5.1" fill="#141414" transform="rotate(-46.2 272.9 238.2)"/>
<ellipse cx="286.4" cy="236.5" rx="2.9" ry="5.2" fill="#141414" transform="rotate(-24.8 286.4 236.5)"/>
<ellipse cx="275.7" cy="241.1" rx="2.9" ry="4.2" fill="#141414" transform="rotate(-96.6 275.7 241.1)"/>
<ellipse cx="303.6" cy="233" rx="3.2" ry="4.1" fill="#141414" transform="rotate(62 303.6 233)"/>
<ellipse cx="276.3" cy="239.3" rx="2.2" ry="4.3" fill="#141414" transform="rotate(-92 276.3 239.3)"/>
<ellipse cx="290" cy="236.5" rx="3" ry="4.1" fill="#141414" transform="rotate(-5 290 236.5)"/>
<ellipse cx="304" cy="239.5" rx="2.6" ry="4.5" fill="#141414" transform="rotate(68.2 304 239.5)"/>
<ellipse cx="293" cy="227.8" rx="2.7" ry="5.4" fill="#141414" transform="rotate(26.3 293 227.8)"/>
<ellipse cx="288.2" cy="229.8" rx="2.3" ry="4.1" fill="#141414" transform="rotate(12.2 288.2 229.8)"/>
<ellipse cx="299.3" cy="242.8" rx="2" ry="4.3" fill="#141414" transform="rotate(79.8 299.3 242.8)"/>
<ellipse cx="289.1" cy="239.3" rx="2.8" ry="3.6" fill="#141414" transform="rotate(18.7 289.1 239.3)"/>
<ellipse cx="291.8" cy="230.2" rx="2.4" ry="4.9" fill="#141414" transform="rotate(29.6 291.8 230.2)"/>
<ellipse cx="291" cy="240.7" rx="2.8" ry="5.4" fill="#141414" transform="rotate(16.6 291 240.7)"/>
<ellipse cx="281.1" cy="233.5" rx="2.4" ry="4.2" fill="#141414" transform="rotate(-35.7 281.1 233.5)"/>
<ellipse cx="283.2" cy="233.4" rx="2.4" ry="4.3" fill="#141414" transform="rotate(-25.6 283.2 233.4)"/>
<ellipse cx="291.4" cy="241.2" rx="2.9" ry="4.1" fill="#141414" transform="rotate(47.6 291.4 241.2)"/>
<ellipse cx="277.2" cy="228.9" rx="2.2" ry="4.4" fill="#141414" transform="rotate(-58 277.2 228.9)"/>
<ellipse cx="291.1" cy="238.7" rx="2.4" ry="5.2" fill="#141414" transform="rotate(23.2 291.1 238.7)"/>
<ellipse cx="285.2" cy="220.7" rx="2.4" ry="4.8" fill="#141414" transform="rotate(-26.5 285.2 220.7)"/>
<ellipse cx="297.4" cy="238.8" rx="2.1" ry="4.6" fill="#141414" transform="rotate(48.6 297.4 238.8)"/>
<ellipse cx="276.2" cy="230.5" rx="2.2" ry="4.1" fill="#141414" transform="rotate(-33.2 276.2 230.5)"/>
<ellipse cx="295.8" cy="233.7" rx="1.1" ry="1.6" fill="#f4f4f4"/>
<ellipse cx="293.3" cy="237.9" rx="1.1" ry="1.6" fill="#f4f4f4"/>
<ellipse cx="282.4" cy="240" rx="1.1" ry="1.6" fill="#f4f4f4"/>
<ellipse cx="292.6" cy="238.7" rx="1.1" ry="1.6" fill="#f4f4f4"/>
<ellipse cx="284.8" cy="233.9" rx="1.1" ry="1.6" fill="#f4f4f4"/>
<ellipse cx="286.3" cy="233.3" rx="1.1" ry="1.6" fill="#f4f4f4"/>
<ellipse cx="292.7" cy="242.6" rx="1.1" ry="1.6" fill="#f4f4f4"/>
<ellipse cx="274.1" cy="239.2" rx="1.1" ry="1.6" fill="#f4f4f4"/>
<ellipse cx="300.4" cy="232.4" rx="1.1" ry="1.6" fill="#f4f4f4"/>
<ellipse cx="285.6" cy="222.8" rx="1.1" ry="1.6" fill="#f4f4f4"/>
<ellipse cx="293.4" cy="242.1" rx="1.1" ry="1.6" fill="#f4f4f4"/>
<ellipse cx="295.7" cy="228.8" rx="1.1" ry="1.6" fill="#f4f4f4"/>
<ellipse cx="291.9" cy="232.2" rx="1.1" ry="1.6" fill="#f4f4f4"/>
<ellipse cx="284.2" cy="236.1" rx="1.1" ry="1.6" fill="#f4f4f4"/>
<ellipse cx="285.2" cy="241.3" rx="1.1" ry="1.6" fill="#f4f4f4"/>
<ellipse cx="289.5" cy="235.7" rx="1.1" ry="1.6" fill="#f4f4f4"/>
<ellipse cx="290.9" cy="242.1" rx="1.1" ry="1.6" fill="#f4f4f4"/>
<ellipse cx="297.9" cy="236.7" rx="1.1" ry="1.6" fill="#f4f4f4"/>
<ellipse cx="300.3" cy="235.6" rx="1.1" ry="1.6" fill="#f4f4f4"/>
<ellipse cx="296.7" cy="237.7" rx="1.1" ry="1.6" fill="#f4f4f4"/>
<ellipse cx="276.4" cy="240" rx="1.1" ry="1.6" fill="#f4f4f4"/>
<ellipse cx="282.8" cy="239" rx="1.1" ry="1.6" fill="#f4f4f4"/>
</g>
<g>
<ellipse cx="517.7" cy="243.9" rx="2.1" ry="4.6" fill="#141414" transform="rotate(-21 517.7 243.9)"/>
<ellipse cx="518.9" cy="245.6" rx="2" ry="4.4" fill="#141414" transform="rotate(-21.4 518.9 245.6)"/>
<ellipse cx="515.3" cy="251.8" rx="3" ry="3.7" fill="#141414" transform="rotate(-73.5 515.3 251.8)"/>
<ellipse cx="511.3" cy="236.6" rx="2.7" ry="4.3" fill="#141414" transform="rotate(-22.4 511.3 236.6)"/>
<ellipse cx="526.3" cy="253.6" rx="2.3" ry="3.8" fill="#141414" transform="rotate(95.1 526.3 253.6)"/>
<ellipse cx="512.9" cy="247.4" rx="2.2" ry="4.7" fill="#141414" transform="rotate(-46.1 512.9 247.4)"/>
<ellipse cx="524.8" cy="237.4" rx="2.1" ry="3.6" fill="#141414" transform="rotate(24.9 524.8 237.4)"/>
<ellipse cx="510.3" cy="236.5" rx="2.4" ry="4.7" fill="#141414" transform="rotate(-51.3 510.3 236.5)"/>
<ellipse cx="519.8" cy="238.1" rx="2.8" ry="4" fill="#141414" transform="rotate(7.1 519.8 238.1)"/>
<ellipse cx="523.6" cy="232.1" rx="2.9" ry="4.1" fill="#141414" transform="rotate(30.8 523.6 232.1)"/>
<ellipse cx="527.3" cy="253.3" rx="2.9" ry="3.8" fill="#141414" transform="rotate(73.7 527.3 253.3)"/>
<ellipse cx="520.8" cy="245.4" rx="2.9" ry="4.6" fill="#141414" transform="rotate(6.6 520.8 245.4)"/>
<ellipse cx="529.1" cy="247" rx="2.7" ry="4.7" fill="#141414" transform="rotate(70.6 529.1 247)"/>
<ellipse cx="518.9" cy="222.8" rx="2.6" ry="4.8" fill="#141414" transform="rotate(15.1 518.9 222.8)"/>
<ellipse cx="507" cy="246.5" rx="3.2" ry="5.1" fill="#141414" transform="rotate(-63.8 507 246.5)"/>
<ellipse cx="515.1" cy="239.2" rx="2" ry="4.4" fill="#141414" transform="rotate(-26.5 515.1 239.2)"/>
<ellipse cx="515.8" cy="248.4" rx="2.9" ry="3.8" fill="#141414" transform="rotate(-75.8 515.8 248.4)"/>
<ellipse cx="514.2" cy="240.4" rx="2.1" ry="4.4" fill="#141414" transform="rotate(-22.3 514.2 240.4)"/>
<ellipse cx="523.4" cy="221.7" rx="3" ry="4.1" fill="#141414" transform="rotate(24 523.4 221.7)"/>
<ellipse cx="518.7" cy="236.8" rx="3.1" ry="3.8" fill="#141414" transform="rotate(5.5 518.7 236.8)"/>
<ellipse cx="514.6" cy="246.2" rx="2.6" ry="4.7" fill="#141414" transform="rotate(-65.8 514.6 246.2)"/>
<ellipse cx="518" cy="248.5" rx="2.4" ry="4.6" fill="#141414" transform="rotate(-42.5 518 248.5)"/>
<ellipse cx="535" cy="247.7" rx="2.7" ry="4.9" fill="#141414" transform="rotate(74.2 535 247.7)"/>
<ellipse cx="504.3" cy="245.3" rx="3" ry="5.1" fill="#141414" transform="rotate(-58.3 504.3 245.3)"/>
<ellipse cx="517.9" cy="236.1" rx="2.8" ry="3.6" fill="#141414" transform="rotate(-37.3 517.9 236.1)"/>
<ellipse cx="513.7" cy="250.7" rx="2.4" ry="3.6" fill="#141414" transform="rotate(-87 513.7 250.7)"/>
<ellipse cx="514.2" cy="253.8" rx="2.4" ry="3.6" fill="#141414" transform="rotate(-100.9 514.2 253.8)"/>
<ellipse cx="532.8" cy="242.8" rx="2.3" ry="4.2" fill="#141414" transform="rotate(43.1 532.8 242.8)"/>
<ellipse cx="518.6" cy="243.9" rx="3.2" ry="4.4" fill="#141414" transform="rotate(-4.6 518.6 243.9)"/>
<ellipse cx="520.7" cy="244.1" rx="2.4" ry="4" fill="#141414" transform="rotate(-22.5 520.7 244.1)"/>
<ellipse cx="526.7" cy="247.6" rx="3.1" ry="4.6" fill="#141414" transform="rotate(29.4 526.7 247.6)"/>
<ellipse cx="510.5" cy="242.5" rx="2.6" ry="5.5" fill="#141414" transform="rotate(-80.9 510.5 242.5)"/>
<ellipse cx="533.6" cy="240.8" rx="2.4" ry="3.8" fill="#141414" transform="rotate(46.9 533.6 240.8)"/>
<ellipse cx="529.6" cy="238.3" rx="2.4" ry="3.9" fill="#141414" transform="rotate(58 529.6 238.3)"/>
<ellipse cx="532.3" cy="233.4" rx="1.1" ry="1.6" fill="#f4f4f4"/>
<ellipse cx="531.7" cy="238.6" rx="1.1" ry="1.6" fill="#f4f4f4"/>
<ellipse cx="530.3" cy="238" rx="1.1" ry="1.6" fill="#f4f4f4"/>
<ellipse cx="514.5" cy="240.2" rx="1.1" ry="1.6" fill="#f4f4f4"/>
<ellipse cx="519.5" cy="248.2" rx="1.1" ry="1.6" fill="#f4f4f4"/>
<ellipse cx="514.3" cy="250.6" rx="1.1" ry="1.6" fill="#f4f4f4"/>
<ellipse cx="514" cy="235.7" rx="1.1" ry="1.6" fill="#f4f4f4"/>
<ellipse cx="529.5" cy="248.3" rx="1.1" ry="1.6" fill="#f4f4f4"/>
<ellipse cx="535.2" cy="241.4" rx="1.1" ry="1.6" fill="#f4f4f4"/>
<ellipse cx="528.6" cy="249.1" rx="1.1" ry="1.6" fill="#f4f4f4"/>
<ellipse cx="516.7" cy="245.9" rx="1.1" ry="1.6" fill="#f4f4f4"/>
<ellipse cx="516.6" cy="246.9" rx="1.1" ry="1.6" fill="#f4f4f4"/>
<ellipse cx="525.6" cy="227.6" rx="1.1" ry="1.6" fill="#f4f4f4"/>
<ellipse cx="528.3" cy="243.3" rx="1.1" ry="1.6" fill="#f4f4f4"/>
<ellipse cx="526.1" cy="230.6" rx="1.1" ry="1.6" fill="#f4f4f4"/>
<ellipse cx="510.7" cy="244" rx="1.1" ry="1.6" fill="#f4f4f4"/>
<ellipse cx="532.5" cy="242.1" rx="1.1" ry="1.6" fill="#f4f4f4"/>
<ellipse cx="526.7" cy="240.3" rx="1.1" ry="1.6" fill="#f4f4f4"/>
<ellipse cx="511.2" cy="237.3" rx="1.1" ry="1.6" fill="#f4f4f4"/>
<ellipse cx="515.4" cy="231" rx="1.1" ry="1.6" fill="#f4f4f4"/>
<ellipse cx="529.1" cy="249.5" rx="1.1" ry="1.6" fill="#f4f4f4"/>
<ellipse cx="517.2" cy="226" rx="1.1" ry="1.6" fill="#f4f4f4"/>
</g>
<g fill="#fafafa" stroke="#111" stroke-width="1.6">
<path d="M282,248 C282.8,246.1 286.3,242.4 288.5,242.4 C290.7,242.4 294.2,246.1 295,248 C295.8,249.9 294.8,253 293,254 C291.2,255 285.8,255 284,254 C282.2,253 281.2,249.9 282,248Z" />
<path d="M284.5,254 L284,286 L293.5,286 L292.5,254" />
<path d="M276,246 C276.2,248.7 276.3,256.7 277,262 C277.7,267.3 279.5,275.3 280,278" fill="none"/>
<path d="M515,255 C515.8,252.8 519.3,249 521.5,249 C523.7,249 527.2,252.8 528,255 C528.8,257.2 527.8,260.8 526,262 C524.2,263.2 518.8,263.2 517,262 C515.2,260.8 514.2,257.2 515,255Z" />
<path d="M517,262 L516.5,294 L527.5,294 L526.5,262" />
</g>
<g fill="none" stroke="#1d4a52" stroke-width="1.5">
<path d="M314.8,280.3 C314.8,274.4 314.3,253.4 315,245 C315.7,236.6 316.9,233.8 319,230 C321.1,226.2 324.8,222.5 327.6,222.5 C330.4,222.5 333.9,226.2 336,230 C338.1,233.8 339.7,236.6 340.5,245 C341.3,253.4 340.9,274.4 341,280.3" />
<path d="M318.5,280 C318.5,274.3 318.1,253.7 318.7,246 C319.3,238.3 320.5,237 322,234 C323.5,231 325.8,228 327.6,228 C329.4,228 331.4,231 333,234 C334.6,237 336.3,238.3 337,246 C337.7,253.7 337.2,274.3 337.3,280" />
<path d="M315.5,263 C316.7,261.4 321.6,260.5 325,260.5 C328.4,260.5 334.3,261.4 335.6,263 C336.9,264.6 334.8,268.6 333,270 C331.2,271.4 327.5,271.5 325,271.5 C322.5,271.5 319.6,271.4 318,270 C316.4,268.6 314.3,264.6 315.5,263Z" />
<path d="M321,271 L321.5,291 L333,291 L333,271" />
<path d="M319,239 C319.8,238.5 322.5,236 324,236 C325.5,236 326.5,239 328,239 C329.5,239 331.7,236 333,236 C334.3,236 335.5,238.5 336,239" />
</g>
<g fill="none" stroke="#1d4a20" stroke-width="1.6">
<path d="M353,228 L353,318" />
<path d="M353,318 L347,324" />
<path d="M353,318 L359,324" />
<path d="M353,318 L353,325" />
<path d="M351,250 a2,1.5 0 1,0 4,0 a2,1.5 0 1,0 -4,0" />
<path d="M351,272 a2,1.5 0 1,0 4,0 a2,1.5 0 1,0 -4,0" />
<path d="M351,296 a2,1.5 0 1,0 4,0 a2,1.5 0 1,0 -4,0" />
</g>
<g fill="none" stroke="#1f3a1f" stroke-width="1.5" stroke-linejoin="round">
<path d="M368.8,284.4 L439,284.4 L449.8,293.4 L358,293.4Z" />
<path d="M358,293.4 C358.4,293.9 361.2,297.9 362,298 C362.8,298.1 365.2,293.9 366,294 C366.8,294.1 369.2,298.5 370,298.5 C370.8,298.5 373.2,294 374,294 C374.8,294 377.2,298.5 378,298.5 C378.8,298.5 381.2,294 382,294 C382.8,294 385.2,298.5 386,298.5 C386.8,298.5 389.2,294 390,294 C390.8,294 393.2,298.5 394,298.5 C394.8,298.5 397.2,294 398,294 C398.8,294 401.2,298.5 402,298.5 C402.8,298.5 405.2,294 406,294 C406.8,294 409.2,298.5 410,298.5 C410.8,298.5 413.2,294 414,294 C414.8,294 417.2,298.5 418,298.5 C418.8,298.5 421.2,294 422,294 C422.8,294 425.2,298.5 426,298.5 C426.8,298.5 429.2,294 430,294 C430.8,294 433.2,298.5 434,298.5 C434.8,298.5 437.2,294 438,294 C438.8,294 441.2,298.5 442,298.5 C442.8,298.5 445.2,294.5 446,294 C446.8,293.5 449.4,293.5 449.8,293.4" />
<path d="M396,300 L393,326" />
<path d="M418,300 L421,326" />
<path d="M393,326 C395.3,326.3 402.3,328 407,328 C411.7,328 418.7,326.3 421,326" />
<path d="M401,301 L400,320" />
</g>
<g fill="#fafafa" stroke="#1a1a1a" stroke-width="1.5" stroke-linejoin="round">
<path d="M451,283 C451,279.5 450.7,266.5 451,262 C451.3,257.5 452.1,257.3 453,256 C453.9,254.7 455.3,254 456.5,254 C457.7,254 459.1,254.7 460,256 C460.9,257.3 461.7,257.5 462,262 C462.3,266.5 462,279.5 462,283Z" />
<path d="M450,279 L463,279 L463,284 L450,284Z" />
<path d="M452,284 L452,295" />
<path d="M461,284 L461,295" />
<path d="M494,283 C494,279.5 493.7,266.5 494,262 C494.3,257.5 494.9,257.3 496,256 C497.1,254.7 499,254 500.5,254 C502,254 503.9,254.7 505,256 C506.1,257.3 506.7,257.5 507,262 C507.3,266.5 507,279.5 507,283Z" />
<path d="M493,279 L508,279 L508,284 L493,284Z" />
<path d="M495,284 L495,295" />
<path d="M506,284 L506,295" />
</g>
<g fill="none" stroke="#1a2a5a" stroke-width="1.6" stroke-linejoin="round">
<path d="M468,282 C468,276.7 467.7,257.3 468,250 C468.3,242.7 468.7,240.8 470,238 C471.3,235.2 474,233 476,233 C478,233 480.7,235.2 482,238 C483.3,240.8 483.7,242.7 484,250 C484.3,257.3 484,276.7 484,282" />
<path d="M465,272 L487,272 L488,282 L464,282Z" />
<path d="M467,282 L467,296" />
<path d="M485,282 L485,296" />
<path d="M476,282 L476,294" />
<path d="M470,234 L482,234" />
</g>
<g fill="none" stroke="#1b2a60" stroke-width="1.7" stroke-linejoin="round">
<path d="M288.5,326 C289.6,324.3 292.6,317 295,316 C297.4,315 300.3,320 303,320 C305.7,320 308.5,315 311,316 C313.5,317 316.8,324.3 318,326" />
<path d="M288.5,326 L318.5,326" />
<path d="M289,328 C290.2,329.5 293.7,335.2 296,337 C298.3,338.8 300.5,339 303,339 C305.5,339 308.5,338.8 311,337 C313.5,335.2 316.8,329.5 318,328" />
<path d="M298.5,339 L298.5,360" />
<path d="M308,339 L308,356 L303,358" />
<path d="M294,305 L289,312" />
</g>
<g fill="none" stroke="#5a1010" stroke-width="1.6">
<path d="M235.8,340 C235.8,330.8 235.4,298.3 235.8,285 C236.2,271.7 237.3,265.8 238.5,260 C239.7,254.2 241.2,252.2 243,250 C244.8,247.8 247,246.5 249,246.5 C251,246.5 253.1,247.4 255,250 C256.9,252.6 259.1,256.2 260.5,262 C261.9,267.8 262.9,278.7 263.4,285 C263.9,291.3 263.4,297.5 263.4,300" />
<path d="M239.7,336 C239.7,327.7 239.3,298 239.7,286 C240.1,274 241,269.2 242,264 C243,258.8 244.2,257.2 245.5,255 C246.8,252.8 248.2,251 249.5,251 C250.8,251 252.2,252.7 253.5,255 C254.8,257.3 256,259.8 257,265 C258,270.2 259.1,279.5 259.5,286 C259.9,292.5 259.5,301 259.5,304" />
<path d="M254.5,286.3 a2,2.6 0 1,0 4,0 a2,2.6 0 1,0 -4,0" />
</g>
<g fill="none" stroke="#3f2a78" stroke-width="1.4" stroke-linejoin="round"><path d="M647,358 L662,370 L663.5,397 L648.5,385Z"/><path d="M650.1,363.9 L659.4,372.2 L660.4,391.1 L651.1,382.8Z"/><path d="M647,358 L650.1,363.9"/><path d="M662,370 L659.4,372.2"/><path d="M663.5,397 L660.4,391.1"/><path d="M648.5,385 L651.1,382.8"/><path d="M657,351 L657,359 M654,354 L660,354" stroke="#2a1a50" stroke-width="1.6"/></g>
<g fill="none" stroke="#3f2a78" stroke-width="1.4" stroke-linejoin="round"><path d="M677,404 L693,417 L694.5,444 L678.5,431Z"/><path d="M680.3,410 L690.2,419.1 L691.2,438 L681.3,428.9Z"/><path d="M677,404 L680.3,410"/><path d="M693,417 L690.2,419.1"/><path d="M694.5,444 L691.2,438"/><path d="M678.5,431 L681.3,428.9"/><path d="M689,397 L689,405 M686,400 L692,400" stroke="#2a1a50" stroke-width="1.6"/></g>
<g fill="none" stroke="#3f2a78" stroke-width="1.4" stroke-linejoin="round"><path d="M714,457 L730,470 L731.5,498 L715.5,485Z"/><path d="M717.3,463.1 L727.2,472.2 L728.2,491.9 L718.3,482.8Z"/><path d="M714,457 L717.3,463.1"/><path d="M730,470 L727.2,472.2"/><path d="M731.5,498 L728.2,491.9"/><path d="M715.5,485 L718.3,482.8"/><path d="M726,450 L726,458 M723,453 L729,453" stroke="#2a1a50" stroke-width="1.6"/></g>
<g fill="none" stroke="#3f2a78" stroke-width="1.4" stroke-linejoin="round"><path d="M163.3,368 L175.4,353.4 L176,371.8 L164,386.5Z"/><path d="M165.7,368.6 L173.2,358.4 L173.6,371.2 L166.2,381.5Z"/><path d="M163.3,368 L165.7,368.6"/><path d="M175.4,353.4 L173.2,358.4"/><path d="M176,371.8 L173.6,371.2"/><path d="M164,386.5 L166.2,381.5"/><path d="M168.4,348.5 L168.4,356.5 M165.4,351.5 L171.4,351.5" stroke="#2a1a50" stroke-width="1.6"/></g>
<g fill="none" stroke="#3f2a78" stroke-width="1.4" stroke-linejoin="round"><path d="M137.8,403.7 L150.6,389 L151.8,406.2 L139,422.8Z"/><path d="M140.5,404.2 L148.4,393.9 L149.1,406 L141.2,417.6Z"/><path d="M137.8,403.7 L140.5,404.2"/><path d="M150.6,389 L148.4,393.9"/><path d="M151.8,406.2 L149.1,406"/><path d="M139,422.8 L141.2,417.6"/><path d="M142.3,383.5 L142.3,391.5 M139.3,386.5 L145.3,386.5" stroke="#2a1a50" stroke-width="1.6"/></g>
<g fill="none" stroke="#3f2a78" stroke-width="1.4" stroke-linejoin="round"><path d="M46.9,531 L60.7,516 L63.1,543 L49.3,561Z"/><path d="M50,533 L58.5,522.5 L60,541.4 L51.5,554Z"/><path d="M46.9,531 L50,533"/><path d="M60.7,516 L58.5,522.5"/><path d="M63.1,543 L60,541.4"/><path d="M49.3,561 L51.5,554"/><path d="M51.7,509 L51.7,517 M48.7,512 L54.7,512" stroke="#2a1a50" stroke-width="1.6"/></g>
<g fill="none" stroke="#3a2410" stroke-width="1.5" stroke-linejoin="round">
<path d="M97.6,455 L126,430.6 L163.3,429.4 L134.5,456Z" />
<path d="M97.6,455 L97.6,511" />
<path d="M134.5,456 L134.5,599" />
<path d="M163.3,429.4 L163.3,459" />
<path d="M164.3,511 C164.3,504.2 164.1,479.3 164.3,470 C164.5,460.7 164.7,458.2 165.4,455.4 C166.2,452.6 167.3,452.4 168.8,453 C170.3,453.6 173.4,449.1 174.5,458.8 C175.6,468.5 175.4,502.3 175.6,511" />
<path d="M175.6,511 L148.5,553.8 L134.5,575" />
<path d="M98,600 C95.7,599.7 86.5,604.7 84,598 C81.5,591.3 83,572.2 82.8,560 C82.6,547.8 82.1,533 83,525 C83.9,517 85.6,514.4 88,512 C90.4,509.6 95.1,510.5 97.6,510.5 C100.1,510.5 102.1,511.8 103,512" />
<path d="M90,598 C89.7,591.7 88.2,572.2 88,560 C87.8,547.8 87.7,532.5 88.5,525 C89.3,517.5 92.2,516.7 93,515" />
<path d="M123,536 L123,598" />
<path d="M128,512 L128,598" />
<path d="M95,584 C94.8,582.7 91.8,578 94,576 C96.2,574 103.2,572 108,572 C112.8,572 120.5,575.3 123,576" />
<path d="M95,589 L123,589" />
<path d="M98,600 L134.5,600" />
</g>
<path d="M103,508.7 L125.8,508.7 L125.8,535.6 L103,535.6Z" fill="#5a3a28" stroke="#3a2410" stroke-width="1.2"/>
<g stroke="#a88a6a" stroke-width="0.7">
<path d="M106.8,509 L106.8,535" />
<path d="M103,513.2 L126,513.2" />
<path d="M110.6,509 L110.6,535" />
<path d="M103,517.7 L126,517.7" />
<path d="M114.4,509 L114.4,535" />
<path d="M103,522.2 L126,522.2" />
<path d="M118.2,509 L118.2,535" />
<path d="M103,526.7 L126,526.7" />
<path d="M122,509 L122,535" />
<path d="M103,531.2 L126,531.2" />
</g>
<g fill="#fafafa" stroke="#151515" stroke-width="1.7" stroke-linejoin="round">
<path d="M273.7,422.6 L273.7,437 L365,437 L365,422.6Z"/>
<path d="M272.7,418.6 L366,418.6 A2,2 0 0,1 366,422.6 L272.7,422.6 A2,2 0 0,1 272.7,418.6 Z"/>
<path d="M260.5,442.4 L260.5,455 L363.8,455 L363.8,442.4Z"/>
<path d="M260.2,437 L364.1,437 A2.7,2.7 0 0,1 364.1,442.4 L260.2,442.4 A2.7,2.7 0 0,1 260.2,437 Z"/>
<path d="M247.7,462 L247.7,477.6 L363,477.6 L363,462Z"/>
<path d="M248.2,455 L362.5,455 A3.5,3.5 0 0,1 362.5,462 L248.2,462 A3.5,3.5 0 0,1 248.2,455 Z"/>
<path d="M233.4,485.3 L233.4,505.5 L362.7,505.5 L362.7,485.3Z"/>
<path d="M234.2,477.6 L361.9,477.6 A3.8,3.8 0 0,1 361.9,485.3 L234.2,485.3 A3.8,3.8 0 0,1 234.2,477.6 Z"/>
<path d="M217,512.5 L217,532.6 L361.6,532.6 L361.6,512.5Z"/>
<path d="M217.5,505.5 L361.1,505.5 A3.5,3.5 0 0,1 361.1,512.5 L217.5,512.5 A3.5,3.5 0 0,1 217.5,505.5 Z"/>
<path d="M200,540.7 L200,565.6 L360.5,565.6 L360.5,540.7Z"/>
<path d="M201.1,532.6 L359.4,532.6 A4.1,4.1 0 0,1 359.4,540.7 L201.1,540.7 A4.1,4.1 0 0,1 201.1,532.6 Z"/>
<path d="M176.6,574.8 L176.6,612.2 L359.4,612.2 L359.4,574.8Z"/>
<path d="M178.2,565.6 L357.8,565.6 A4.6,4.6 0 0,1 357.8,574.8 L178.2,574.8 A4.6,4.6 0 0,1 178.2,565.6 Z"/>
<path d="M176,613.3 L354,613.3 A5,5 0 0,1 354,623.2 L176,623.2 A5,5 0 0,1 176,613.3 Z"/>
<path d="M172,623.2 L172,630 L358,630 L358,623.2"/>
</g>
<g fill="#fafafa" stroke="#151515" stroke-width="1.7" stroke-linejoin="round">
<path d="M453.2,425.2 L453.2,438 L540.3,438 L540.3,425.2Z"/>
<path d="M452.8,420 L540.7,420 A2.6,2.6 0 0,1 540.7,425.2 L452.8,425.2 A2.6,2.6 0 0,1 452.8,420 Z"/>
<path d="M453.5,444.6 L453.5,461 L553.5,461 L553.5,444.6Z"/>
<path d="M453.8,438 L553.2,438 A3.3,3.3 0 0,1 553.2,444.6 L453.8,444.6 A3.3,3.3 0 0,1 453.8,438 Z"/>
<path d="M453.8,466.6 L453.8,482 L567.8,482 L567.8,466.6Z"/>
<path d="M453.6,461 L568,461 A2.8,2.8 0 0,1 568,466.6 L453.6,466.6 A2.8,2.8 0 0,1 453.6,461 Z"/>
<path d="M454,489.7 L454,512.8 L583.2,512.8 L583.2,489.7Z"/>
<path d="M454.9,482 L582.4,482 A3.8,3.8 0 0,1 582.4,489.7 L454.9,489.7 A3.8,3.8 0 0,1 454.9,482 Z"/>
<path d="M454.2,519.4 L454.2,539.6 L601,539.6 L601,519.4Z"/>
<path d="M454.5,512.8 L600.7,512.8 A3.3,3.3 0 0,1 600.7,519.4 L454.5,519.4 A3.3,3.3 0 0,1 454.5,512.8 Z"/>
<path d="M454.5,546.2 L454.5,571.5 L615,571.5 L615,546.2Z"/>
<path d="M454.8,539.6 L614.7,539.6 A3.3,3.3 0 0,1 614.7,546.2 L454.8,546.2 A3.3,3.3 0 0,1 454.8,539.6 Z"/>
<path d="M454.8,580.3 L454.8,615.5 L640.4,615.5 L640.4,580.3Z"/>
<path d="M456.2,571.5 L639,571.5 A4.4,4.4 0 0,1 639,580.3 L456.2,580.3 A4.4,4.4 0 0,1 456.2,571.5 Z"/>
<path d="M455.3,616.6 L646.7,616.6 A3.3,3.3 0 0,1 646.7,623.2 L455.3,623.2 A3.3,3.3 0 0,1 455.3,616.6 Z"/>
<path d="M453,623.2 L453,634 L648,634 L648,623.2"/>
</g>
<g fill="#fafafa" stroke="#1a1a1a" stroke-width="1.5" stroke-linejoin="round">
<path d="M738.5,582 C738.8,575 739.3,552.3 740,540 C740.7,527.7 741.2,515.7 742.5,508 C743.8,500.3 745.7,497.2 748,494 C750.3,490.8 753.5,488.5 756.2,488.5 C758.9,488.5 761.9,490.8 764,494 C766.1,497.2 767.7,497 768.6,508 C769.5,519 770,542.7 769.5,560 C769,577.3 766.2,603.3 765.5,612" fill="none"/>
<path d="M744.5,580 C744.7,573.3 745,551.3 745.5,540 C746,528.7 746.6,518.7 747.5,512 C748.4,505.3 749.5,502.8 751,500 C752.5,497.2 754.5,495.5 756.2,495.5 C758,495.5 760.3,497.2 761.5,500 C762.7,502.8 763.2,502 763.5,512 C763.8,522 764.2,543.7 763.5,560 C762.8,576.3 760.2,601.7 759.5,610" fill="none"/>
<path d="M740.3,515 L748,515 L748,527 L740.3,527Z" />
<path d="M764.5,537 L772,537 L772,549 L764.5,549Z" />
<path d="M737,542 C738.3,539.5 744.3,543.8 748,545 C751.7,546.2 757.5,546.5 759,549 C760.5,551.5 758.8,557.2 757,560 C755.2,562.8 750.8,565.6 748,565.6 C745.2,565.6 741.8,563.9 740,560 C738.2,556.1 735.7,544.5 737,542Z" />
<path d="M740,548 C741.3,548.7 745.2,551 748,552 C750.8,553 755.5,553.7 757,554" fill="none"/>
<path d="M736,578 C737.2,576.8 741.8,576.8 743,578 C744.2,579.2 744.7,583.8 743.5,585 C742.3,586.2 737.2,586.2 736,585 C734.8,583.8 734.8,579.2 736,578Z" />
<path d="M758.6,609.5 C759.8,608 764.6,608 765.8,609.5 C767,611 767,616.9 765.8,618.4 C764.6,619.9 759.8,619.9 758.6,618.4 C757.4,616.9 757.4,611 758.6,609.5Z" />
</g>
<path d="M753.8,525 L753.8,541.6" stroke="#111" stroke-width="2.2"/>
<path d="M750.3,530.5 L757.3,530.5" stroke="#111" stroke-width="2"/>
<path d="M756.8,469.5 L756.8,484" stroke="#a0a0a0" stroke-width="3.5"/>
<path d="M752.5,482 L761,482 L756.8,491Z" fill="#a0a0a0"/>
<path d="M668,344 L662.5,358" stroke="#a0a0a0" stroke-width="3.2"/>
<path d="M657.5,355 L665.5,359 L659.5,366Z" fill="#a0a0a0"/>
<g id="hl" style="mix-blend-mode:multiply" filter="url(#soft2)">
<path d="M405,176 C411.2,176 419.8,176 425,180 C430.2,184 434,191.7 436,200 C438,208.3 438,220.8 437,230 C436,239.2 434.2,249.2 430,255 C425.8,260.8 417.8,263.5 412,265 C406.2,266.5 400.5,266.2 395,264 C389.5,261.8 382.7,258.5 379,252 C375.3,245.5 373.5,234.5 373,225 C372.5,215.5 373.5,202.5 376,195 C378.5,187.5 383.2,183.2 388,180 C392.8,176.8 398.8,176 405,176Z" fill="#fca0a4"/>
<path d="M240.7,231 C245.9,229.8 253.1,231.8 258,235 C262.9,238.2 267.3,241.7 270,250 C272.7,258.3 273.7,274.2 274,285 C274.3,295.8 274,308.8 272,315 C270,321.2 264.8,317.8 262,322 C259.2,326.2 257.8,334.4 255,340 C252.2,345.6 249.2,353.5 245,355.5 C240.8,357.5 233.7,356.2 230,352 C226.3,347.8 224.2,343.7 223,330 C221.8,316.3 222.3,284.7 223,270 C223.7,255.3 224.1,248.5 227,242 C229.9,235.5 235.5,232.2 240.7,231Z" fill="#cea0a0"/>
<path d="M247,250.7 C249.6,250 254.7,249.1 257,254 C259.3,258.9 260.4,270.7 261,280 C261.6,289.3 262,303.7 260.5,310 C259,316.3 255.1,317.7 252,318 C248.9,318.3 243.9,318.3 242,312 C240.1,305.7 240.8,289 240.7,280 C240.6,271 240.4,262.9 241.5,258 C242.6,253.1 244.4,251.4 247,250.7Z" fill="#c67a7a"/>
<path d="M239,233 C239.8,231 242.9,231 243.7,233 C244.5,235 244.5,243 243.7,245 C242.9,247 239.8,247 239,245 C238.2,243 238.2,235 239,233Z" fill="#c06a6a"/>
<path d="M265,281 a15,15 0 1,0 30,0 a15,15 0 1,0 -30,0" fill="#a0a0a0"/>
<path d="M305,240 C312.2,238.1 332.7,238.8 340,240.5 C347.3,242.2 347.5,241.4 349,250 C350.5,258.6 350,283.5 349,292 C348,300.5 349.2,299.5 343,301 C336.8,302.5 318.3,301.8 312,301 C305.7,300.2 306.7,300.3 305,296 C303.3,291.7 303.3,282.3 302,275 C300.7,267.7 296.5,257.8 297,252 C297.5,246.2 297.8,241.9 305,240Z" fill="#b6ecf4"/>
<path d="M350,231 C353.5,231 359.2,231.2 362,236 C364.8,240.8 366.2,246 367,260 C367.8,274 367.8,306.7 367,320 C366.2,333.3 364.8,336.2 362,340 C359.2,343.8 353.7,343.3 350,343 C346.3,342.7 342.2,345.2 340,338 C337.8,330.8 337.5,314.7 337,300 C336.5,285.3 336.3,260.7 337,250 C337.7,239.3 338.8,239.2 341,236 C343.2,232.8 346.5,231 350,231Z" fill="#b8eaa8"/>
<path d="M372,270.5 C385.8,268.9 436.7,267.2 450,270.5 C463.3,273.8 451.6,284.2 451.6,290 C451.6,295.8 451.3,301.7 450,305 C448.7,308.3 445,306.7 444,310 C443,313.3 445.5,321.5 444,325 C442.5,328.5 444.8,330 435,331 C425.2,332 394.8,332 385,331 C375.2,330 377.5,328.8 376,325 C374.5,321.2 377.3,311.8 376,308 C374.7,304.2 369.5,306.7 368,302 C366.5,297.3 366.3,285.2 367,280 C367.7,274.8 358.2,272.1 372,270.5Z" fill="#cee8cc"/>
<path d="M475,224 C479.2,224 485.3,224.8 488,230 C490.7,235.2 490.8,243.3 491.3,255 C491.8,266.7 492.2,289.8 491,300 C489.8,310.2 487.5,313.1 484,316 C480.5,318.9 473.8,319.5 470,317.7 C466.2,315.9 462.7,315.4 461,305 C459.3,294.6 459.5,267.5 459.8,255 C460.1,242.5 460.5,235.2 463,230 C465.5,224.8 470.8,224 475,224Z" fill="#a0b4ea"/>
<path d="M285,298.5 C293.5,296.2 312.2,296.5 320,298.4 C327.8,300.3 330,298.1 332,310 C334,321.9 333.7,358.2 332,370 C330.3,381.8 330.3,379.2 322,381 C313.7,382.8 290.7,382.5 282,381 C273.3,379.5 272.2,383.5 270,372 C267.8,360.5 266.5,324.2 269,312 C271.5,299.8 276.5,300.8 285,298.5Z" fill="#a2b6e8"/>
<path d="M645,352 C649.7,352.3 655.5,353.7 660,358 C664.5,362.3 667,371.3 672,378 C677,384.7 683.3,391 690,398 C696.7,405 704.5,413 712,420 C719.5,427 729.3,433 735,440 C740.7,447 744.2,454.8 746,462 C747.8,469.2 747.8,477.5 746,483 C744.2,488.5 739.7,493.5 735,495 C730.3,496.5 723,496.2 718,492 C713,487.8 709.7,477 705,470 C700.3,463 695.5,456.7 690,450 C684.5,443.3 678.7,436.3 672,430 C665.3,423.7 656.2,418.3 650,412 C643.8,405.7 638.7,399 635,392 C631.3,385 628.5,376 628,370 C627.5,364 629.2,359 632,356 C634.8,353 640.3,351.7 645,352Z" fill="#dfc9fd"/>
<path d="M180,356 C184.3,356 189.5,358 192,362 C194.5,366 195.3,374 195,380 C194.7,386 194.2,393.3 190,398 C185.8,402.7 176.7,404.7 170,408 C163.3,411.3 156,415.3 150,418 C144,420.7 137.8,425 134,424 C130.2,423 127.3,416.8 127,412 C126.7,407.2 128.2,400.7 132,395 C135.8,389.3 144.3,383.5 150,378 C155.7,372.5 161,365.7 166,362 C171,358.3 175.7,356 180,356Z" fill="#dfc9fd"/>
<path d="M49.3,542 m-32,0 a32,19 0 1,0 64,0 a32,19 0 1,0 -64,0" fill="#dfc9fd" transform="rotate(-53 49.3 542)"/>
<path d="M92,436 C96.3,431.7 99.8,426.5 112,424 C124.2,421.5 153.2,420.5 165,421 C176.8,421.5 179.7,418.8 183,427 C186.3,435.2 184.7,455.3 185,470 C185.3,484.7 187.2,503.7 184.7,515 C182.2,526.3 174.9,530.8 170,538 C165.1,545.2 158.7,549.3 155,558 C151.3,566.7 151.8,582.5 148,590 C144.2,597.5 140.7,600.8 132,603 C123.3,605.2 103.5,606 96,603 C88.5,600 88.7,602.2 87,585 C85.3,567.8 86.2,522.5 86,500 C85.8,477.5 85,460.7 86,450 C87,439.3 87.7,440.3 92,436Z" fill="#ccb7a1"/>
<path d="M102.7,455 a11,11 0 1,0 22,0 a11,11 0 1,0 -22,0" fill="#b29274" opacity="0.85"/>
<path d="M113,462 L113,592" stroke="#b49676" stroke-width="5" fill="none"/>
<path d="M150,520 L150,578" stroke="#b49676" stroke-width="6" fill="none"/>
<path d="M283,430 C289,428.7 301.2,427.7 310,428 C318.8,428.3 329,429.2 336,432 C343,434.8 348.7,438.7 352,445 C355.3,451.3 355.5,457.5 356,470 C356.5,482.5 356,505 355,520 C354,535 353.5,550.2 350,560 C346.5,569.8 342.3,574.3 334,579 C325.7,583.7 310.7,586.2 300,588 C289.3,589.8 278,590 270,590 C262,590 257.7,589.2 252,588 C246.3,586.8 238.9,591 236,583 C233.1,575 234.5,551.3 234.5,540 C234.5,528.7 233.4,525 236,515 C238.6,505 245.2,490.8 250,480 C254.8,469.2 261,457.3 265,450 C269,442.7 271,439.3 274,436 C277,432.7 277,431.3 283,430Z" fill="#82ff50"/>
<path d="M476,431 C480.8,425.5 491.5,427.7 500,427 C508.5,426.3 519.5,424.8 527,427 C534.5,429.2 539.5,433.7 545,440 C550.5,446.3 555,455.8 560,465 C565,474.2 571,485.2 575,495 C579,504.8 582.5,512.2 584,524 C585.5,535.8 586,555.7 584,566 C582,576.3 576.7,582 572,586 C567.3,590 559,587.3 556,590 C553,592.7 555.7,599.3 554,602 C552.3,604.7 548.7,606.3 546,606 C543.3,605.7 539.7,602.5 538,600 C536.3,597.5 538.7,593 536,591 C533.3,589 527.5,591 522,588 C516.5,585 509.2,582.2 503,573 C496.8,563.8 490.2,545.2 485,533 C479.8,520.8 474.3,512.2 472,500 C469.7,487.8 470.3,471.5 471,460 C471.7,448.5 471.2,436.5 476,431Z" fill="#82ff50"/>
</g>
<g clip-path="url(#cg)" opacity="0.75">
<g fill="none" stroke="#2a8a1a" stroke-width="1.7" stroke-linejoin="round">
<path d="M273.7,422.6 L273.7,437 L365,437 L365,422.6Z"/>
<path d="M272.7,418.6 L366,418.6 A2,2 0 0,1 366,422.6 L272.7,422.6 A2,2 0 0,1 272.7,418.6 Z"/>
<path d="M260.5,442.4 L260.5,455 L363.8,455 L363.8,442.4Z"/>
<path d="M260.2,437 L364.1,437 A2.7,2.7 0 0,1 364.1,442.4 L260.2,442.4 A2.7,2.7 0 0,1 260.2,437 Z"/>
<path d="M247.7,462 L247.7,477.6 L363,477.6 L363,462Z"/>
<path d="M248.2,455 L362.5,455 A3.5,3.5 0 0,1 362.5,462 L248.2,462 A3.5,3.5 0 0,1 248.2,455 Z"/>
<path d="M233.4,485.3 L233.4,505.5 L362.7,505.5 L362.7,485.3Z"/>
<path d="M234.2,477.6 L361.9,477.6 A3.8,3.8 0 0,1 361.9,485.3 L234.2,485.3 A3.8,3.8 0 0,1 234.2,477.6 Z"/>
<path d="M217,512.5 L217,532.6 L361.6,532.6 L361.6,512.5Z"/>
<path d="M217.5,505.5 L361.1,505.5 A3.5,3.5 0 0,1 361.1,512.5 L217.5,512.5 A3.5,3.5 0 0,1 217.5,505.5 Z"/>
<path d="M200,540.7 L200,565.6 L360.5,565.6 L360.5,540.7Z"/>
<path d="M201.1,532.6 L359.4,532.6 A4.1,4.1 0 0,1 359.4,540.7 L201.1,540.7 A4.1,4.1 0 0,1 201.1,532.6 Z"/>
<path d="M176.6,574.8 L176.6,612.2 L359.4,612.2 L359.4,574.8Z"/>
<path d="M178.2,565.6 L357.8,565.6 A4.6,4.6 0 0,1 357.8,574.8 L178.2,574.8 A4.6,4.6 0 0,1 178.2,565.6 Z"/>
<path d="M176,613.3 L354,613.3 A5,5 0 0,1 354,623.2 L176,623.2 A5,5 0 0,1 176,613.3 Z"/>
<path d="M172,623.2 L172,630 L358,630 L358,623.2"/>
</g>
<g fill="none" stroke="#2a8a1a" stroke-width="1.7" stroke-linejoin="round">
<path d="M453.2,425.2 L453.2,438 L540.3,438 L540.3,425.2Z"/>
<path d="M452.8,420 L540.7,420 A2.6,2.6 0 0,1 540.7,425.2 L452.8,425.2 A2.6,2.6 0 0,1 452.8,420 Z"/>
<path d="M453.5,444.6 L453.5,461 L553.5,461 L553.5,444.6Z"/>
<path d="M453.8,438 L553.2,438 A3.3,3.3 0 0,1 553.2,444.6 L453.8,444.6 A3.3,3.3 0 0,1 453.8,438 Z"/>
<path d="M453.8,466.6 L453.8,482 L567.8,482 L567.8,466.6Z"/>
<path d="M453.6,461 L568,461 A2.8,2.8 0 0,1 568,466.6 L453.6,466.6 A2.8,2.8 0 0,1 453.6,461 Z"/>
<path d="M454,489.7 L454,512.8 L583.2,512.8 L583.2,489.7Z"/>
<path d="M454.9,482 L582.4,482 A3.8,3.8 0 0,1 582.4,489.7 L454.9,489.7 A3.8,3.8 0 0,1 454.9,482 Z"/>
<path d="M454.2,519.4 L454.2,539.6 L601,539.6 L601,519.4Z"/>
<path d="M454.5,512.8 L600.7,512.8 A3.3,3.3 0 0,1 600.7,519.4 L454.5,519.4 A3.3,3.3 0 0,1 454.5,512.8 Z"/>
<path d="M454.5,546.2 L454.5,571.5 L615,571.5 L615,546.2Z"/>
<path d="M454.8,539.6 L614.7,539.6 A3.3,3.3 0 0,1 614.7,546.2 L454.8,546.2 A3.3,3.3 0 0,1 454.8,539.6 Z"/>
<path d="M454.8,580.3 L454.8,615.5 L640.4,615.5 L640.4,580.3Z"/>
<path d="M456.2,571.5 L639,571.5 A4.4,4.4 0 0,1 639,580.3 L456.2,580.3 A4.4,4.4 0 0,1 456.2,571.5 Z"/>
<path d="M455.3,616.6 L646.7,616.6 A3.3,3.3 0 0,1 646.7,623.2 L455.3,623.2 A3.3,3.3 0 0,1 455.3,616.6 Z"/>
<path d="M453,623.2 L453,634 L648,634 L648,623.2"/>
</g>
</g>
<path d="M147.6,465.6 L151.6,465.6 L151.6,476 L156.4,476 L156.4,480 L151.6,480 L151.6,505.2 L147.6,505.2 L147.6,480 L145,480 L145,476 L147.6,476Z" fill="#f4efe8" stroke="#3a2410" stroke-width="1"/>
<path d="M383.2,352.8 L425.5,352.8 L425.5,408 L383.2,408Z" fill="#f35ef3"/>
<g fill="none" stroke="#7a1a7a" stroke-width="1.3" stroke-linejoin="round">
<path d="M387,355 C389.4,354.8 421.5,354.8 424,355 C426.5,355.2 426.9,358.5 424.5,358.7 C422.1,358.9 390,358.9 387.5,358.7 C385,358.5 384.6,355.2 387,355Z" />
<path d="M390,358.7 L390,396" />
<path d="M393.8,358.7 L393.8,392" />
<path d="M419,358.7 L419,392" />
<path d="M422.8,358.7 L422.8,396" />
<path d="M393.8,367 L419,367" />
<path d="M393.8,370.5 L419,370.5" />
<path d="M393.8,388 L419,388" />
<path d="M384,393 L388,389.8 L424,389.8 L422,394 L386,397.7 L384,393" />
<path d="M386,397.7 L420,397.7 L424,394" />
<path d="M388,397.7 L386,405" />
<path d="M416,397.7 L418,405" />
<path d="M424,394 L420,403" />
</g></g>

<!-- title box -->
<rect x="44" y="59.5" width="230" height="96.5" fill="#e5e5e5"/>
<g font-family="Liberation Sans" fill="#6f6f6f" stroke="#6f6f6f" stroke-width="1.7" stroke-linejoin="round" font-size="38.5">
<text x="83" y="98.5" textLength="151" lengthAdjust="spacingAndGlyphs">Partes del</text>
<text x="50" y="141.5" textLength="219" lengthAdjust="spacingAndGlyphs">templo católico</text>
</g>

<!-- LABELS -->
<g id="labels" font-family="Liberation Sans" font-size="23.5" fill="#141414">
<rect x="779" y="36" width="100" height="35.5" fill="#f8d631"/>
<text x="785.0" y="61.7" textLength="63.2" lengthAdjust="spacingAndGlyphs">CRUZ</text>
<rect x="779" y="72.5" width="152" height="39.5" fill="#f88c7c"/>
<text x="785.0" y="99.5" textLength="120.8" lengthAdjust="spacingAndGlyphs">SAGRARIO</text>
<rect x="779" y="114" width="201" height="35.5" fill="#8de68b"/>
<text x="785.0" y="140" textLength="175.8" lengthAdjust="spacingAndGlyphs">CIRIO PASCUAL</text>
<rect x="779" y="149.7" width="207" height="39.7" fill="#82ecf4"/>
<text x="785.0" y="175" textLength="184.5" lengthAdjust="spacingAndGlyphs">PILA BAUTISMAL</text>
<rect x="985.6" y="157.4" width="2" height="21" fill="#2a5a60"/>
<rect x="779" y="191" width="146" height="40.5" fill="#2f6fb6"/>
<text x="785.0" y="217" textLength="59.7" lengthAdjust="spacingAndGlyphs">SEDE</text>
<rect x="779" y="235.4" width="157" height="39.6" fill="#e69b95"/>
<text x="785.0" y="262" textLength="119.5" lengthAdjust="spacingAndGlyphs">SACRISTÍA</text>
<rect x="777.4" y="277" width="173" height="35.5" fill="#d3bfe3"/>
<text x="782.8" y="303.3" textLength="128.7" lengthAdjust="spacingAndGlyphs">VIA CRUCIS</text>
<rect x="777.4" y="311" width="198" height="38.3" fill="#18ee18"/>
<text x="784.0" y="336.7" textLength="96.3" lengthAdjust="spacingAndGlyphs">BANCOS</text>
<rect x="775" y="350.5" width="211" height="40.2" fill="#c89b78"/>
<text x="782.8" y="376.3" textLength="191.9" lengthAdjust="spacingAndGlyphs">CONFESIONARIO</text>
<rect x="776.4" y="393" width="201.3" height="35.7" fill="#ff00ff"/>
<text x="782.8" y="419" fill="#3a0a50" textLength="171.2" lengthAdjust="spacingAndGlyphs">RECLINATORIO</text>
<rect x="776.2" y="429.5" width="120" height="37.5" fill="#b4f0c8"/>
<text x="782.1" y="456.7" textLength="75.6" lengthAdjust="spacingAndGlyphs">ALTAR</text>
<rect x="777.4" y="468.3" width="146.6" height="35.4" fill="#78a8dc"/>
<text x="782.9" y="494.3" textLength="91.4" lengthAdjust="spacingAndGlyphs">AMBÓN</text>
<rect x="776.2" y="504.2" width="173.3" height="44.6" fill="#a9a8a8"/>
<text x="782.1" y="531" textLength="131.8" lengthAdjust="spacingAndGlyphs">CREDENCIA</text>
<rect x="773.7" y="550" width="201.8" height="44.6" fill="#ef7f32"/>
<text x="779.5" y="576.5" textLength="122.7" lengthAdjust="spacingAndGlyphs">VIDRIERAS</text>
</g>

<!-- LOGO -->
<g id="logo">
<rect x="693.4" y="671" width="11" height="11" rx="1.5" fill="#7ac143"/>
<rect x="705.6" y="671" width="11" height="11" rx="1.5" fill="#f7a823"/>
<rect x="693.4" y="682.6" width="11" height="11" rx="1.5" fill="#4a90d9"/>
<rect x="705.6" y="682.6" width="11" height="11" rx="1.5" fill="#e0283c"/>
<g font-family="Liberation Sans" font-weight="bold" font-size="9.5" fill="#fff" text-anchor="middle">
<text x="698.9" y="679.8">L</text><text x="711.1" y="679.8">I</text><text x="698.9" y="691.4">V</text><text x="711.1" y="691.4">E</text>
</g>
<text x="718.6" y="693" font-family="Liberation Sans" font-weight="bold" font-size="31.5" fill="#163e7a" stroke="#163e7a" stroke-width="0.5" textLength="268" lengthAdjust="spacingAndGlyphs">LIVEWORKSHEETS</text>
</g>
</svg>
</body></html>
